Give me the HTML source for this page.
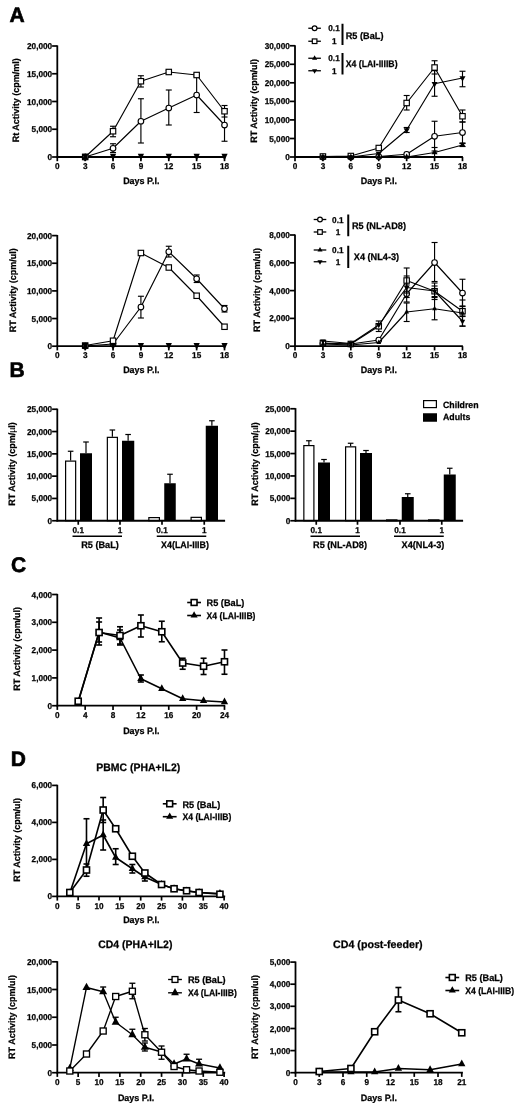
<!DOCTYPE html>
<html><head><meta charset="utf-8"><title>Figure</title>
<style>
html,body{margin:0;padding:0;background:#fff;}
body{width:520px;height:1106px;overflow:hidden;font-family:"Liberation Sans",sans-serif;}
svg{display:block;filter:blur(0.4px);}
</style></head><body>
<svg width="520" height="1106" viewBox="0 0 520 1106">
<rect x="0" y="0" width="520" height="1106" fill="#fff"/>
<text x="9.6" y="21.64" font-size="21" font-family="Liberation Sans, sans-serif" font-weight="bold" stroke="#000" stroke-width="0.6" text-rendering="geometricPrecision">A</text>
<text x="9.4" y="377.24" font-size="21" font-family="Liberation Sans, sans-serif" font-weight="bold" stroke="#000" stroke-width="0.6" text-rendering="geometricPrecision">B</text>
<text x="10.9" y="572.44" font-size="21" font-family="Liberation Sans, sans-serif" font-weight="bold" stroke="#000" stroke-width="0.6" text-rendering="geometricPrecision">C</text>
<text x="10.8" y="765.84" font-size="21" font-family="Liberation Sans, sans-serif" font-weight="bold" stroke="#000" stroke-width="0.6" text-rendering="geometricPrecision">D</text>
<line x1="57.30" y1="45.40" x2="57.30" y2="157.75" stroke="#000" stroke-width="1.8"/>
<line x1="56.55" y1="157.00" x2="225.20" y2="157.00" stroke="#000" stroke-width="1.8"/>
<line x1="52.10" y1="46.00" x2="57.30" y2="46.00" stroke="#000" stroke-width="1.7"/>
<text transform="translate(52.10,46.00) scale(0.965,1)" x="0" y="3.04" font-size="8.5" text-anchor="end" font-family="Liberation Sans, sans-serif" font-weight="bold" stroke="#000" stroke-width="0.25" text-rendering="geometricPrecision">20,000</text>
<line x1="52.10" y1="73.75" x2="57.30" y2="73.75" stroke="#000" stroke-width="1.7"/>
<text transform="translate(52.10,73.75) scale(0.965,1)" x="0" y="3.04" font-size="8.5" text-anchor="end" font-family="Liberation Sans, sans-serif" font-weight="bold" stroke="#000" stroke-width="0.25" text-rendering="geometricPrecision">15,000</text>
<line x1="52.10" y1="101.50" x2="57.30" y2="101.50" stroke="#000" stroke-width="1.7"/>
<text transform="translate(52.10,101.50) scale(0.965,1)" x="0" y="3.04" font-size="8.5" text-anchor="end" font-family="Liberation Sans, sans-serif" font-weight="bold" stroke="#000" stroke-width="0.25" text-rendering="geometricPrecision">10,000</text>
<line x1="52.10" y1="129.25" x2="57.30" y2="129.25" stroke="#000" stroke-width="1.7"/>
<text transform="translate(52.10,129.25) scale(0.965,1)" x="0" y="3.04" font-size="8.5" text-anchor="end" font-family="Liberation Sans, sans-serif" font-weight="bold" stroke="#000" stroke-width="0.25" text-rendering="geometricPrecision">5,000</text>
<line x1="52.10" y1="157.00" x2="57.30" y2="157.00" stroke="#000" stroke-width="1.7"/>
<text transform="translate(52.10,157.00) scale(0.965,1)" x="0" y="3.04" font-size="8.5" text-anchor="end" font-family="Liberation Sans, sans-serif" font-weight="bold" stroke="#000" stroke-width="0.25" text-rendering="geometricPrecision">0</text>
<line x1="57.30" y1="157.00" x2="57.30" y2="161.20" stroke="#000" stroke-width="1.7"/>
<text transform="translate(57.30,166.20) scale(0.965,1)" x="0" y="3.04" font-size="8.5" text-anchor="middle" font-family="Liberation Sans, sans-serif" font-weight="bold" stroke="#000" stroke-width="0.25" text-rendering="geometricPrecision">0</text>
<line x1="85.17" y1="157.00" x2="85.17" y2="161.20" stroke="#000" stroke-width="1.7"/>
<text transform="translate(85.17,166.20) scale(0.965,1)" x="0" y="3.04" font-size="8.5" text-anchor="middle" font-family="Liberation Sans, sans-serif" font-weight="bold" stroke="#000" stroke-width="0.25" text-rendering="geometricPrecision">3</text>
<line x1="113.04" y1="157.00" x2="113.04" y2="161.20" stroke="#000" stroke-width="1.7"/>
<text transform="translate(113.04,166.20) scale(0.965,1)" x="0" y="3.04" font-size="8.5" text-anchor="middle" font-family="Liberation Sans, sans-serif" font-weight="bold" stroke="#000" stroke-width="0.25" text-rendering="geometricPrecision">6</text>
<line x1="140.91" y1="157.00" x2="140.91" y2="161.20" stroke="#000" stroke-width="1.7"/>
<text transform="translate(140.91,166.20) scale(0.965,1)" x="0" y="3.04" font-size="8.5" text-anchor="middle" font-family="Liberation Sans, sans-serif" font-weight="bold" stroke="#000" stroke-width="0.25" text-rendering="geometricPrecision">9</text>
<line x1="168.78" y1="157.00" x2="168.78" y2="161.20" stroke="#000" stroke-width="1.7"/>
<text transform="translate(168.78,166.20) scale(0.965,1)" x="0" y="3.04" font-size="8.5" text-anchor="middle" font-family="Liberation Sans, sans-serif" font-weight="bold" stroke="#000" stroke-width="0.25" text-rendering="geometricPrecision">12</text>
<line x1="196.65" y1="157.00" x2="196.65" y2="161.20" stroke="#000" stroke-width="1.7"/>
<text transform="translate(196.65,166.20) scale(0.965,1)" x="0" y="3.04" font-size="8.5" text-anchor="middle" font-family="Liberation Sans, sans-serif" font-weight="bold" stroke="#000" stroke-width="0.25" text-rendering="geometricPrecision">15</text>
<line x1="224.52" y1="157.00" x2="224.52" y2="161.20" stroke="#000" stroke-width="1.7"/>
<text transform="translate(224.52,166.20) scale(0.965,1)" x="0" y="3.04" font-size="8.5" text-anchor="middle" font-family="Liberation Sans, sans-serif" font-weight="bold" stroke="#000" stroke-width="0.25" text-rendering="geometricPrecision">18</text>
<text transform="translate(16.00,100.30) rotate(-90) scale(0.965,1)" x="0" y="3.33" font-size="9.3" text-anchor="middle" font-family="Liberation Sans, sans-serif" font-weight="bold" stroke="#000" stroke-width="0.25" text-rendering="geometricPrecision">Rt Activity (cpm/ml)</text>
<text transform="translate(141.25,180.50) scale(0.965,1)" x="0" y="3.33" font-size="9.3" text-anchor="middle" font-family="Liberation Sans, sans-serif" font-weight="bold" stroke="#000" stroke-width="0.25" text-rendering="geometricPrecision">Days P.I.</text>
<polyline points="85.17,157.00 113.04,148.25 140.91,121.25 168.78,108.00 196.65,95.00 224.52,125.00" fill="none" stroke="#000" stroke-width="1.15" stroke-linejoin="round"/>
<line x1="113.04" y1="143.75" x2="113.04" y2="152.50" stroke="#000" stroke-width="1.15"/>
<line x1="110.04" y1="143.75" x2="116.04" y2="143.75" stroke="#000" stroke-width="1.15"/>
<line x1="110.04" y1="152.50" x2="116.04" y2="152.50" stroke="#000" stroke-width="1.15"/>
<line x1="140.91" y1="98.75" x2="140.91" y2="143.00" stroke="#000" stroke-width="1.15"/>
<line x1="137.91" y1="98.75" x2="143.91" y2="98.75" stroke="#000" stroke-width="1.15"/>
<line x1="137.91" y1="143.00" x2="143.91" y2="143.00" stroke="#000" stroke-width="1.15"/>
<line x1="168.78" y1="90.00" x2="168.78" y2="125.00" stroke="#000" stroke-width="1.15"/>
<line x1="165.78" y1="90.00" x2="171.78" y2="90.00" stroke="#000" stroke-width="1.15"/>
<line x1="165.78" y1="125.00" x2="171.78" y2="125.00" stroke="#000" stroke-width="1.15"/>
<line x1="196.65" y1="75.00" x2="196.65" y2="112.50" stroke="#000" stroke-width="1.15"/>
<line x1="193.65" y1="75.00" x2="199.65" y2="75.00" stroke="#000" stroke-width="1.15"/>
<line x1="193.65" y1="112.50" x2="199.65" y2="112.50" stroke="#000" stroke-width="1.15"/>
<line x1="224.52" y1="109.00" x2="224.52" y2="141.25" stroke="#000" stroke-width="1.15"/>
<line x1="221.52" y1="109.00" x2="227.52" y2="109.00" stroke="#000" stroke-width="1.15"/>
<line x1="221.52" y1="141.25" x2="227.52" y2="141.25" stroke="#000" stroke-width="1.15"/>
<circle cx="85.17" cy="157.00" r="2.80" fill="#fff" stroke="#000" stroke-width="1.15"/>
<circle cx="113.04" cy="148.25" r="2.80" fill="#fff" stroke="#000" stroke-width="1.15"/>
<circle cx="140.91" cy="121.25" r="2.80" fill="#fff" stroke="#000" stroke-width="1.15"/>
<circle cx="168.78" cy="108.00" r="2.80" fill="#fff" stroke="#000" stroke-width="1.15"/>
<circle cx="196.65" cy="95.00" r="2.80" fill="#fff" stroke="#000" stroke-width="1.15"/>
<circle cx="224.52" cy="125.00" r="2.80" fill="#fff" stroke="#000" stroke-width="1.15"/>
<polyline points="85.17,157.00 113.04,131.25 140.91,81.25 168.78,72.00 196.65,75.00 224.52,111.25" fill="none" stroke="#000" stroke-width="1.15" stroke-linejoin="round"/>
<line x1="113.04" y1="126.25" x2="113.04" y2="136.75" stroke="#000" stroke-width="1.15"/>
<line x1="110.04" y1="126.25" x2="116.04" y2="126.25" stroke="#000" stroke-width="1.15"/>
<line x1="110.04" y1="136.75" x2="116.04" y2="136.75" stroke="#000" stroke-width="1.15"/>
<line x1="140.91" y1="75.75" x2="140.91" y2="87.00" stroke="#000" stroke-width="1.15"/>
<line x1="137.91" y1="75.75" x2="143.91" y2="75.75" stroke="#000" stroke-width="1.15"/>
<line x1="137.91" y1="87.00" x2="143.91" y2="87.00" stroke="#000" stroke-width="1.15"/>
<line x1="168.78" y1="70.50" x2="168.78" y2="73.50" stroke="#000" stroke-width="1.15"/>
<line x1="165.78" y1="70.50" x2="171.78" y2="70.50" stroke="#000" stroke-width="1.15"/>
<line x1="165.78" y1="73.50" x2="171.78" y2="73.50" stroke="#000" stroke-width="1.15"/>
<line x1="196.65" y1="73.50" x2="196.65" y2="76.50" stroke="#000" stroke-width="1.15"/>
<line x1="193.65" y1="73.50" x2="199.65" y2="73.50" stroke="#000" stroke-width="1.15"/>
<line x1="193.65" y1="76.50" x2="199.65" y2="76.50" stroke="#000" stroke-width="1.15"/>
<line x1="224.52" y1="105.50" x2="224.52" y2="117.00" stroke="#000" stroke-width="1.15"/>
<line x1="221.52" y1="105.50" x2="227.52" y2="105.50" stroke="#000" stroke-width="1.15"/>
<line x1="221.52" y1="117.00" x2="227.52" y2="117.00" stroke="#000" stroke-width="1.15"/>
<rect x="82.47" y="154.30" width="5.40" height="5.40" fill="#fff" stroke="#000" stroke-width="1.15"/>
<rect x="110.34" y="128.55" width="5.40" height="5.40" fill="#fff" stroke="#000" stroke-width="1.15"/>
<rect x="138.21" y="78.55" width="5.40" height="5.40" fill="#fff" stroke="#000" stroke-width="1.15"/>
<rect x="166.08" y="69.30" width="5.40" height="5.40" fill="#fff" stroke="#000" stroke-width="1.15"/>
<rect x="193.95" y="72.30" width="5.40" height="5.40" fill="#fff" stroke="#000" stroke-width="1.15"/>
<rect x="221.82" y="108.55" width="5.40" height="5.40" fill="#fff" stroke="#000" stroke-width="1.15"/>
<polygon points="81.97,159.60 88.37,159.60 85.17,153.20" fill="#000"/>
<polygon points="82.07,153.70 88.27,153.70 85.17,160.60" fill="#000"/>
<polygon points="109.94,153.70 116.14,153.70 113.04,160.60" fill="#000"/>
<polygon points="137.81,153.70 144.01,153.70 140.91,160.60" fill="#000"/>
<polygon points="165.68,153.70 171.88,153.70 168.78,160.60" fill="#000"/>
<polygon points="193.55,153.70 199.75,153.70 196.65,160.60" fill="#000"/>
<polygon points="221.42,153.70 227.62,153.70 224.52,160.60" fill="#000"/>
<line x1="295.00" y1="45.15" x2="295.00" y2="157.75" stroke="#000" stroke-width="1.8"/>
<line x1="294.25" y1="157.00" x2="462.90" y2="157.00" stroke="#000" stroke-width="1.8"/>
<line x1="289.80" y1="45.75" x2="295.00" y2="45.75" stroke="#000" stroke-width="1.7"/>
<text transform="translate(289.80,45.75) scale(0.965,1)" x="0" y="3.04" font-size="8.5" text-anchor="end" font-family="Liberation Sans, sans-serif" font-weight="bold" stroke="#000" stroke-width="0.25" text-rendering="geometricPrecision">30,000</text>
<line x1="289.80" y1="64.30" x2="295.00" y2="64.30" stroke="#000" stroke-width="1.7"/>
<text transform="translate(289.80,64.30) scale(0.965,1)" x="0" y="3.04" font-size="8.5" text-anchor="end" font-family="Liberation Sans, sans-serif" font-weight="bold" stroke="#000" stroke-width="0.25" text-rendering="geometricPrecision">25,000</text>
<line x1="289.80" y1="82.80" x2="295.00" y2="82.80" stroke="#000" stroke-width="1.7"/>
<text transform="translate(289.80,82.80) scale(0.965,1)" x="0" y="3.04" font-size="8.5" text-anchor="end" font-family="Liberation Sans, sans-serif" font-weight="bold" stroke="#000" stroke-width="0.25" text-rendering="geometricPrecision">20,000</text>
<line x1="289.80" y1="101.40" x2="295.00" y2="101.40" stroke="#000" stroke-width="1.7"/>
<text transform="translate(289.80,101.40) scale(0.965,1)" x="0" y="3.04" font-size="8.5" text-anchor="end" font-family="Liberation Sans, sans-serif" font-weight="bold" stroke="#000" stroke-width="0.25" text-rendering="geometricPrecision">15,000</text>
<line x1="289.80" y1="119.90" x2="295.00" y2="119.90" stroke="#000" stroke-width="1.7"/>
<text transform="translate(289.80,119.90) scale(0.965,1)" x="0" y="3.04" font-size="8.5" text-anchor="end" font-family="Liberation Sans, sans-serif" font-weight="bold" stroke="#000" stroke-width="0.25" text-rendering="geometricPrecision">10,000</text>
<line x1="289.80" y1="138.50" x2="295.00" y2="138.50" stroke="#000" stroke-width="1.7"/>
<text transform="translate(289.80,138.50) scale(0.965,1)" x="0" y="3.04" font-size="8.5" text-anchor="end" font-family="Liberation Sans, sans-serif" font-weight="bold" stroke="#000" stroke-width="0.25" text-rendering="geometricPrecision">5,000</text>
<line x1="289.80" y1="157.00" x2="295.00" y2="157.00" stroke="#000" stroke-width="1.7"/>
<text transform="translate(289.80,157.00) scale(0.965,1)" x="0" y="3.04" font-size="8.5" text-anchor="end" font-family="Liberation Sans, sans-serif" font-weight="bold" stroke="#000" stroke-width="0.25" text-rendering="geometricPrecision">0</text>
<line x1="295.00" y1="157.00" x2="295.00" y2="161.20" stroke="#000" stroke-width="1.7"/>
<text transform="translate(295.00,166.20) scale(0.965,1)" x="0" y="3.04" font-size="8.5" text-anchor="middle" font-family="Liberation Sans, sans-serif" font-weight="bold" stroke="#000" stroke-width="0.25" text-rendering="geometricPrecision">0</text>
<line x1="322.92" y1="157.00" x2="322.92" y2="161.20" stroke="#000" stroke-width="1.7"/>
<text transform="translate(322.92,166.20) scale(0.965,1)" x="0" y="3.04" font-size="8.5" text-anchor="middle" font-family="Liberation Sans, sans-serif" font-weight="bold" stroke="#000" stroke-width="0.25" text-rendering="geometricPrecision">3</text>
<line x1="350.83" y1="157.00" x2="350.83" y2="161.20" stroke="#000" stroke-width="1.7"/>
<text transform="translate(350.83,166.20) scale(0.965,1)" x="0" y="3.04" font-size="8.5" text-anchor="middle" font-family="Liberation Sans, sans-serif" font-weight="bold" stroke="#000" stroke-width="0.25" text-rendering="geometricPrecision">6</text>
<line x1="378.75" y1="157.00" x2="378.75" y2="161.20" stroke="#000" stroke-width="1.7"/>
<text transform="translate(378.75,166.20) scale(0.965,1)" x="0" y="3.04" font-size="8.5" text-anchor="middle" font-family="Liberation Sans, sans-serif" font-weight="bold" stroke="#000" stroke-width="0.25" text-rendering="geometricPrecision">9</text>
<line x1="406.66" y1="157.00" x2="406.66" y2="161.20" stroke="#000" stroke-width="1.7"/>
<text transform="translate(406.66,166.20) scale(0.965,1)" x="0" y="3.04" font-size="8.5" text-anchor="middle" font-family="Liberation Sans, sans-serif" font-weight="bold" stroke="#000" stroke-width="0.25" text-rendering="geometricPrecision">12</text>
<line x1="434.57" y1="157.00" x2="434.57" y2="161.20" stroke="#000" stroke-width="1.7"/>
<text transform="translate(434.57,166.20) scale(0.965,1)" x="0" y="3.04" font-size="8.5" text-anchor="middle" font-family="Liberation Sans, sans-serif" font-weight="bold" stroke="#000" stroke-width="0.25" text-rendering="geometricPrecision">15</text>
<line x1="462.49" y1="157.00" x2="462.49" y2="161.20" stroke="#000" stroke-width="1.7"/>
<text transform="translate(462.49,166.20) scale(0.965,1)" x="0" y="3.04" font-size="8.5" text-anchor="middle" font-family="Liberation Sans, sans-serif" font-weight="bold" stroke="#000" stroke-width="0.25" text-rendering="geometricPrecision">18</text>
<text transform="translate(253.25,100.90) rotate(-90) scale(0.965,1)" x="0" y="3.33" font-size="9.3" text-anchor="middle" font-family="Liberation Sans, sans-serif" font-weight="bold" stroke="#000" stroke-width="0.25" text-rendering="geometricPrecision">RT Activity (cpm/ul)</text>
<text transform="translate(378.90,180.50) scale(0.965,1)" x="0" y="3.33" font-size="9.3" text-anchor="middle" font-family="Liberation Sans, sans-serif" font-weight="bold" stroke="#000" stroke-width="0.25" text-rendering="geometricPrecision">Days P.I.</text>
<polyline points="322.92,157.00 350.83,157.00 378.75,156.50 406.66,154.25 434.57,136.25 462.49,132.50" fill="none" stroke="#000" stroke-width="1.15" stroke-linejoin="round"/>
<line x1="434.57" y1="121.25" x2="434.57" y2="151.00" stroke="#000" stroke-width="1.15"/>
<line x1="431.57" y1="121.25" x2="437.57" y2="121.25" stroke="#000" stroke-width="1.15"/>
<line x1="431.57" y1="151.00" x2="437.57" y2="151.00" stroke="#000" stroke-width="1.15"/>
<line x1="462.49" y1="122.00" x2="462.49" y2="143.00" stroke="#000" stroke-width="1.15"/>
<line x1="459.49" y1="122.00" x2="465.49" y2="122.00" stroke="#000" stroke-width="1.15"/>
<line x1="459.49" y1="143.00" x2="465.49" y2="143.00" stroke="#000" stroke-width="1.15"/>
<circle cx="322.92" cy="157.00" r="2.80" fill="#fff" stroke="#000" stroke-width="1.15"/>
<circle cx="350.83" cy="157.00" r="2.80" fill="#fff" stroke="#000" stroke-width="1.15"/>
<circle cx="378.75" cy="156.50" r="2.80" fill="#fff" stroke="#000" stroke-width="1.15"/>
<circle cx="406.66" cy="154.25" r="2.80" fill="#fff" stroke="#000" stroke-width="1.15"/>
<circle cx="434.57" cy="136.25" r="2.80" fill="#fff" stroke="#000" stroke-width="1.15"/>
<circle cx="462.49" cy="132.50" r="2.80" fill="#fff" stroke="#000" stroke-width="1.15"/>
<polyline points="322.92,156.50 350.83,156.00 378.75,148.00 406.66,103.00 434.57,67.50 462.49,116.25" fill="none" stroke="#000" stroke-width="1.15" stroke-linejoin="round"/>
<line x1="406.66" y1="95.50" x2="406.66" y2="110.00" stroke="#000" stroke-width="1.15"/>
<line x1="403.66" y1="95.50" x2="409.66" y2="95.50" stroke="#000" stroke-width="1.15"/>
<line x1="403.66" y1="110.00" x2="409.66" y2="110.00" stroke="#000" stroke-width="1.15"/>
<line x1="434.57" y1="60.75" x2="434.57" y2="74.00" stroke="#000" stroke-width="1.15"/>
<line x1="431.57" y1="60.75" x2="437.57" y2="60.75" stroke="#000" stroke-width="1.15"/>
<line x1="431.57" y1="74.00" x2="437.57" y2="74.00" stroke="#000" stroke-width="1.15"/>
<line x1="462.49" y1="110.00" x2="462.49" y2="122.00" stroke="#000" stroke-width="1.15"/>
<line x1="459.49" y1="110.00" x2="465.49" y2="110.00" stroke="#000" stroke-width="1.15"/>
<line x1="459.49" y1="122.00" x2="465.49" y2="122.00" stroke="#000" stroke-width="1.15"/>
<rect x="320.22" y="153.80" width="5.40" height="5.40" fill="#fff" stroke="#000" stroke-width="1.15"/>
<rect x="348.13" y="153.30" width="5.40" height="5.40" fill="#fff" stroke="#000" stroke-width="1.15"/>
<rect x="376.05" y="145.30" width="5.40" height="5.40" fill="#fff" stroke="#000" stroke-width="1.15"/>
<rect x="403.96" y="100.30" width="5.40" height="5.40" fill="#fff" stroke="#000" stroke-width="1.15"/>
<rect x="431.88" y="64.80" width="5.40" height="5.40" fill="#fff" stroke="#000" stroke-width="1.15"/>
<rect x="459.79" y="113.55" width="5.40" height="5.40" fill="#fff" stroke="#000" stroke-width="1.15"/>
<polyline points="322.92,157.00 350.83,157.00 378.75,157.00 406.66,157.00 434.57,152.50 462.49,145.00" fill="none" stroke="#000" stroke-width="1.15" stroke-linejoin="round"/>
<line x1="434.57" y1="147.50" x2="434.57" y2="157.00" stroke="#000" stroke-width="1.15"/>
<line x1="431.57" y1="147.50" x2="437.57" y2="147.50" stroke="#000" stroke-width="1.15"/>
<line x1="431.57" y1="157.00" x2="437.57" y2="157.00" stroke="#000" stroke-width="1.15"/>
<line x1="462.49" y1="143.50" x2="462.49" y2="146.50" stroke="#000" stroke-width="1.15"/>
<line x1="459.49" y1="143.50" x2="465.49" y2="143.50" stroke="#000" stroke-width="1.15"/>
<line x1="459.49" y1="146.50" x2="465.49" y2="146.50" stroke="#000" stroke-width="1.15"/>
<polygon points="322.92,153.40 325.92,158.80 319.92,158.80" fill="#000"/>
<polygon points="350.83,153.40 353.83,158.80 347.83,158.80" fill="#000"/>
<polygon points="378.75,153.40 381.75,158.80 375.75,158.80" fill="#000"/>
<polygon points="406.66,153.40 409.66,158.80 403.66,158.80" fill="#000"/>
<polygon points="434.57,148.90 437.57,154.30 431.57,154.30" fill="#000"/>
<polygon points="462.49,141.40 465.49,146.80 459.49,146.80" fill="#000"/>
<polyline points="322.92,157.00 350.83,157.00 378.75,153.50 406.66,130.00 434.57,83.75 462.49,78.00" fill="none" stroke="#000" stroke-width="1.15" stroke-linejoin="round"/>
<line x1="406.66" y1="127.50" x2="406.66" y2="132.50" stroke="#000" stroke-width="1.15"/>
<line x1="403.66" y1="127.50" x2="409.66" y2="127.50" stroke="#000" stroke-width="1.15"/>
<line x1="403.66" y1="132.50" x2="409.66" y2="132.50" stroke="#000" stroke-width="1.15"/>
<line x1="434.57" y1="70.60" x2="434.57" y2="96.25" stroke="#000" stroke-width="1.15"/>
<line x1="431.57" y1="70.60" x2="437.57" y2="70.60" stroke="#000" stroke-width="1.15"/>
<line x1="431.57" y1="96.25" x2="437.57" y2="96.25" stroke="#000" stroke-width="1.15"/>
<line x1="462.49" y1="71.25" x2="462.49" y2="86.75" stroke="#000" stroke-width="1.15"/>
<line x1="459.49" y1="71.25" x2="465.49" y2="71.25" stroke="#000" stroke-width="1.15"/>
<line x1="459.49" y1="86.75" x2="465.49" y2="86.75" stroke="#000" stroke-width="1.15"/>
<polygon points="322.92,160.60 325.92,155.20 319.92,155.20" fill="#000"/>
<polygon points="350.83,160.60 353.83,155.20 347.83,155.20" fill="#000"/>
<polygon points="378.75,157.10 381.75,151.70 375.75,151.70" fill="#000"/>
<polygon points="406.66,133.60 409.66,128.20 403.66,128.20" fill="#000"/>
<polygon points="434.57,87.35 437.57,81.95 431.57,81.95" fill="#000"/>
<polygon points="462.49,81.60 465.49,76.20 459.49,76.20" fill="#000"/>
<line x1="308.30" y1="28.25" x2="320.90" y2="28.25" stroke="#000" stroke-width="1.3"/>
<circle cx="314.60" cy="28.25" r="2.38" fill="#fff" stroke="#000" stroke-width="1.2"/>
<text transform="translate(339.70,28.25) scale(0.965,1)" x="0" y="3.04" font-size="8.5" text-anchor="end" font-family="Liberation Sans, sans-serif" font-weight="bold" stroke="#000" stroke-width="0.25" text-rendering="geometricPrecision">0.1</text>
<line x1="308.30" y1="41.25" x2="320.90" y2="41.25" stroke="#000" stroke-width="1.3"/>
<rect x="312.31" y="38.95" width="4.59" height="4.59" fill="#fff" stroke="#000" stroke-width="1.2"/>
<text transform="translate(336.50,41.25) scale(0.965,1)" x="0" y="3.04" font-size="8.5" text-anchor="end" font-family="Liberation Sans, sans-serif" font-weight="bold" stroke="#000" stroke-width="0.25" text-rendering="geometricPrecision">1</text>
<line x1="308.30" y1="58.25" x2="320.90" y2="58.25" stroke="#000" stroke-width="1.3"/>
<polygon points="314.60,55.19 317.15,59.78 312.05,59.78" fill="#000"/>
<text transform="translate(339.70,58.25) scale(0.965,1)" x="0" y="3.04" font-size="8.5" text-anchor="end" font-family="Liberation Sans, sans-serif" font-weight="bold" stroke="#000" stroke-width="0.25" text-rendering="geometricPrecision">0.1</text>
<line x1="308.30" y1="70.75" x2="320.90" y2="70.75" stroke="#000" stroke-width="1.3"/>
<polygon points="314.60,73.81 317.15,69.22 312.05,69.22" fill="#000"/>
<text transform="translate(336.50,70.75) scale(0.965,1)" x="0" y="3.04" font-size="8.5" text-anchor="end" font-family="Liberation Sans, sans-serif" font-weight="bold" stroke="#000" stroke-width="0.25" text-rendering="geometricPrecision">1</text>
<line x1="342.50" y1="23.75" x2="342.50" y2="45.00" stroke="#000" stroke-width="2.0"/>
<line x1="342.50" y1="53.00" x2="342.50" y2="74.50" stroke="#000" stroke-width="2.0"/>
<text transform="translate(345.75,36.00) scale(0.965,1)" x="0" y="3.40" font-size="9.5" text-anchor="start" font-family="Liberation Sans, sans-serif" font-weight="bold" stroke="#000" stroke-width="0.25" text-rendering="geometricPrecision">R5 (BaL)</text>
<text transform="translate(345.75,64.00) scale(0.965,1)" x="0" y="3.40" font-size="9.5" text-anchor="start" textLength="53.68" lengthAdjust="spacingAndGlyphs" font-family="Liberation Sans, sans-serif" font-weight="bold" stroke="#000" stroke-width="0.25" text-rendering="geometricPrecision">X4 (LAI-IIIIB)</text>
<line x1="57.30" y1="235.00" x2="57.30" y2="346.95" stroke="#000" stroke-width="1.8"/>
<line x1="56.55" y1="346.20" x2="225.20" y2="346.20" stroke="#000" stroke-width="1.8"/>
<line x1="52.10" y1="235.60" x2="57.30" y2="235.60" stroke="#000" stroke-width="1.7"/>
<text transform="translate(52.10,235.60) scale(0.965,1)" x="0" y="3.04" font-size="8.5" text-anchor="end" font-family="Liberation Sans, sans-serif" font-weight="bold" stroke="#000" stroke-width="0.25" text-rendering="geometricPrecision">20,000</text>
<line x1="52.10" y1="263.25" x2="57.30" y2="263.25" stroke="#000" stroke-width="1.7"/>
<text transform="translate(52.10,263.25) scale(0.965,1)" x="0" y="3.04" font-size="8.5" text-anchor="end" font-family="Liberation Sans, sans-serif" font-weight="bold" stroke="#000" stroke-width="0.25" text-rendering="geometricPrecision">15,000</text>
<line x1="52.10" y1="290.90" x2="57.30" y2="290.90" stroke="#000" stroke-width="1.7"/>
<text transform="translate(52.10,290.90) scale(0.965,1)" x="0" y="3.04" font-size="8.5" text-anchor="end" font-family="Liberation Sans, sans-serif" font-weight="bold" stroke="#000" stroke-width="0.25" text-rendering="geometricPrecision">10,000</text>
<line x1="52.10" y1="318.55" x2="57.30" y2="318.55" stroke="#000" stroke-width="1.7"/>
<text transform="translate(52.10,318.55) scale(0.965,1)" x="0" y="3.04" font-size="8.5" text-anchor="end" font-family="Liberation Sans, sans-serif" font-weight="bold" stroke="#000" stroke-width="0.25" text-rendering="geometricPrecision">5,000</text>
<line x1="52.10" y1="346.20" x2="57.30" y2="346.20" stroke="#000" stroke-width="1.7"/>
<text transform="translate(52.10,346.20) scale(0.965,1)" x="0" y="3.04" font-size="8.5" text-anchor="end" font-family="Liberation Sans, sans-serif" font-weight="bold" stroke="#000" stroke-width="0.25" text-rendering="geometricPrecision">0</text>
<line x1="57.30" y1="346.20" x2="57.30" y2="350.40" stroke="#000" stroke-width="1.7"/>
<text transform="translate(57.30,355.40) scale(0.965,1)" x="0" y="3.04" font-size="8.5" text-anchor="middle" font-family="Liberation Sans, sans-serif" font-weight="bold" stroke="#000" stroke-width="0.25" text-rendering="geometricPrecision">0</text>
<line x1="85.17" y1="346.20" x2="85.17" y2="350.40" stroke="#000" stroke-width="1.7"/>
<text transform="translate(85.17,355.40) scale(0.965,1)" x="0" y="3.04" font-size="8.5" text-anchor="middle" font-family="Liberation Sans, sans-serif" font-weight="bold" stroke="#000" stroke-width="0.25" text-rendering="geometricPrecision">3</text>
<line x1="113.04" y1="346.20" x2="113.04" y2="350.40" stroke="#000" stroke-width="1.7"/>
<text transform="translate(113.04,355.40) scale(0.965,1)" x="0" y="3.04" font-size="8.5" text-anchor="middle" font-family="Liberation Sans, sans-serif" font-weight="bold" stroke="#000" stroke-width="0.25" text-rendering="geometricPrecision">6</text>
<line x1="140.91" y1="346.20" x2="140.91" y2="350.40" stroke="#000" stroke-width="1.7"/>
<text transform="translate(140.91,355.40) scale(0.965,1)" x="0" y="3.04" font-size="8.5" text-anchor="middle" font-family="Liberation Sans, sans-serif" font-weight="bold" stroke="#000" stroke-width="0.25" text-rendering="geometricPrecision">9</text>
<line x1="168.78" y1="346.20" x2="168.78" y2="350.40" stroke="#000" stroke-width="1.7"/>
<text transform="translate(168.78,355.40) scale(0.965,1)" x="0" y="3.04" font-size="8.5" text-anchor="middle" font-family="Liberation Sans, sans-serif" font-weight="bold" stroke="#000" stroke-width="0.25" text-rendering="geometricPrecision">12</text>
<line x1="196.65" y1="346.20" x2="196.65" y2="350.40" stroke="#000" stroke-width="1.7"/>
<text transform="translate(196.65,355.40) scale(0.965,1)" x="0" y="3.04" font-size="8.5" text-anchor="middle" font-family="Liberation Sans, sans-serif" font-weight="bold" stroke="#000" stroke-width="0.25" text-rendering="geometricPrecision">15</text>
<line x1="224.52" y1="346.20" x2="224.52" y2="350.40" stroke="#000" stroke-width="1.7"/>
<text transform="translate(224.52,355.40) scale(0.965,1)" x="0" y="3.04" font-size="8.5" text-anchor="middle" font-family="Liberation Sans, sans-serif" font-weight="bold" stroke="#000" stroke-width="0.25" text-rendering="geometricPrecision">18</text>
<text transform="translate(13.00,290.30) rotate(-90) scale(0.965,1)" x="0" y="3.33" font-size="9.3" text-anchor="middle" font-family="Liberation Sans, sans-serif" font-weight="bold" stroke="#000" stroke-width="0.25" text-rendering="geometricPrecision">RT Activity (cpm/ul)</text>
<text transform="translate(141.25,369.50) scale(0.965,1)" x="0" y="3.33" font-size="9.3" text-anchor="middle" font-family="Liberation Sans, sans-serif" font-weight="bold" stroke="#000" stroke-width="0.25" text-rendering="geometricPrecision">Days P.I.</text>
<polyline points="85.17,346.00 113.04,344.00 140.91,307.00 168.78,251.75 196.65,278.75 224.52,308.75" fill="none" stroke="#000" stroke-width="1.15" stroke-linejoin="round"/>
<line x1="140.91" y1="296.25" x2="140.91" y2="318.00" stroke="#000" stroke-width="1.15"/>
<line x1="137.91" y1="296.25" x2="143.91" y2="296.25" stroke="#000" stroke-width="1.15"/>
<line x1="137.91" y1="318.00" x2="143.91" y2="318.00" stroke="#000" stroke-width="1.15"/>
<line x1="168.78" y1="246.25" x2="168.78" y2="257.00" stroke="#000" stroke-width="1.15"/>
<line x1="165.78" y1="246.25" x2="171.78" y2="246.25" stroke="#000" stroke-width="1.15"/>
<line x1="165.78" y1="257.00" x2="171.78" y2="257.00" stroke="#000" stroke-width="1.15"/>
<line x1="196.65" y1="275.00" x2="196.65" y2="282.50" stroke="#000" stroke-width="1.15"/>
<line x1="193.65" y1="275.00" x2="199.65" y2="275.00" stroke="#000" stroke-width="1.15"/>
<line x1="193.65" y1="282.50" x2="199.65" y2="282.50" stroke="#000" stroke-width="1.15"/>
<line x1="224.52" y1="305.50" x2="224.52" y2="312.00" stroke="#000" stroke-width="1.15"/>
<line x1="221.52" y1="305.50" x2="227.52" y2="305.50" stroke="#000" stroke-width="1.15"/>
<line x1="221.52" y1="312.00" x2="227.52" y2="312.00" stroke="#000" stroke-width="1.15"/>
<circle cx="85.17" cy="346.00" r="2.80" fill="#fff" stroke="#000" stroke-width="1.15"/>
<circle cx="113.04" cy="344.00" r="2.80" fill="#fff" stroke="#000" stroke-width="1.15"/>
<circle cx="140.91" cy="307.00" r="2.80" fill="#fff" stroke="#000" stroke-width="1.15"/>
<circle cx="168.78" cy="251.75" r="2.80" fill="#fff" stroke="#000" stroke-width="1.15"/>
<circle cx="196.65" cy="278.75" r="2.80" fill="#fff" stroke="#000" stroke-width="1.15"/>
<circle cx="224.52" cy="308.75" r="2.80" fill="#fff" stroke="#000" stroke-width="1.15"/>
<polyline points="85.17,345.50 113.04,340.75 140.91,253.00 168.78,267.50 196.65,295.75 224.52,326.75" fill="none" stroke="#000" stroke-width="1.15" stroke-linejoin="round"/>
<rect x="82.47" y="342.80" width="5.40" height="5.40" fill="#fff" stroke="#000" stroke-width="1.15"/>
<rect x="110.34" y="338.05" width="5.40" height="5.40" fill="#fff" stroke="#000" stroke-width="1.15"/>
<rect x="138.21" y="250.30" width="5.40" height="5.40" fill="#fff" stroke="#000" stroke-width="1.15"/>
<rect x="166.08" y="264.80" width="5.40" height="5.40" fill="#fff" stroke="#000" stroke-width="1.15"/>
<rect x="193.95" y="293.05" width="5.40" height="5.40" fill="#fff" stroke="#000" stroke-width="1.15"/>
<rect x="221.82" y="324.05" width="5.40" height="5.40" fill="#fff" stroke="#000" stroke-width="1.15"/>
<polygon points="81.97,348.80 88.37,348.80 85.17,342.40" fill="#000"/>
<polygon points="82.07,342.90 88.27,342.90 85.17,349.80" fill="#000"/>
<polygon points="109.94,342.90 116.14,342.90 113.04,349.80" fill="#000"/>
<polygon points="137.81,342.90 144.01,342.90 140.91,349.80" fill="#000"/>
<polygon points="165.68,342.90 171.88,342.90 168.78,349.80" fill="#000"/>
<polygon points="193.55,342.90 199.75,342.90 196.65,349.80" fill="#000"/>
<polygon points="221.42,342.90 227.62,342.90 224.52,349.80" fill="#000"/>
<line x1="295.00" y1="234.40" x2="295.00" y2="346.95" stroke="#000" stroke-width="1.8"/>
<line x1="294.25" y1="346.20" x2="462.90" y2="346.20" stroke="#000" stroke-width="1.8"/>
<line x1="289.80" y1="235.00" x2="295.00" y2="235.00" stroke="#000" stroke-width="1.7"/>
<text transform="translate(289.80,235.00) scale(0.965,1)" x="0" y="3.04" font-size="8.5" text-anchor="end" font-family="Liberation Sans, sans-serif" font-weight="bold" stroke="#000" stroke-width="0.25" text-rendering="geometricPrecision">8,000</text>
<line x1="289.80" y1="262.80" x2="295.00" y2="262.80" stroke="#000" stroke-width="1.7"/>
<text transform="translate(289.80,262.80) scale(0.965,1)" x="0" y="3.04" font-size="8.5" text-anchor="end" font-family="Liberation Sans, sans-serif" font-weight="bold" stroke="#000" stroke-width="0.25" text-rendering="geometricPrecision">6,000</text>
<line x1="289.80" y1="290.60" x2="295.00" y2="290.60" stroke="#000" stroke-width="1.7"/>
<text transform="translate(289.80,290.60) scale(0.965,1)" x="0" y="3.04" font-size="8.5" text-anchor="end" font-family="Liberation Sans, sans-serif" font-weight="bold" stroke="#000" stroke-width="0.25" text-rendering="geometricPrecision">4,000</text>
<line x1="289.80" y1="318.40" x2="295.00" y2="318.40" stroke="#000" stroke-width="1.7"/>
<text transform="translate(289.80,318.40) scale(0.965,1)" x="0" y="3.04" font-size="8.5" text-anchor="end" font-family="Liberation Sans, sans-serif" font-weight="bold" stroke="#000" stroke-width="0.25" text-rendering="geometricPrecision">2,000</text>
<line x1="289.80" y1="346.20" x2="295.00" y2="346.20" stroke="#000" stroke-width="1.7"/>
<text transform="translate(289.80,346.20) scale(0.965,1)" x="0" y="3.04" font-size="8.5" text-anchor="end" font-family="Liberation Sans, sans-serif" font-weight="bold" stroke="#000" stroke-width="0.25" text-rendering="geometricPrecision">0</text>
<line x1="295.00" y1="346.20" x2="295.00" y2="350.40" stroke="#000" stroke-width="1.7"/>
<text transform="translate(295.00,355.40) scale(0.965,1)" x="0" y="3.04" font-size="8.5" text-anchor="middle" font-family="Liberation Sans, sans-serif" font-weight="bold" stroke="#000" stroke-width="0.25" text-rendering="geometricPrecision">0</text>
<line x1="322.92" y1="346.20" x2="322.92" y2="350.40" stroke="#000" stroke-width="1.7"/>
<text transform="translate(322.92,355.40) scale(0.965,1)" x="0" y="3.04" font-size="8.5" text-anchor="middle" font-family="Liberation Sans, sans-serif" font-weight="bold" stroke="#000" stroke-width="0.25" text-rendering="geometricPrecision">3</text>
<line x1="350.83" y1="346.20" x2="350.83" y2="350.40" stroke="#000" stroke-width="1.7"/>
<text transform="translate(350.83,355.40) scale(0.965,1)" x="0" y="3.04" font-size="8.5" text-anchor="middle" font-family="Liberation Sans, sans-serif" font-weight="bold" stroke="#000" stroke-width="0.25" text-rendering="geometricPrecision">6</text>
<line x1="378.75" y1="346.20" x2="378.75" y2="350.40" stroke="#000" stroke-width="1.7"/>
<text transform="translate(378.75,355.40) scale(0.965,1)" x="0" y="3.04" font-size="8.5" text-anchor="middle" font-family="Liberation Sans, sans-serif" font-weight="bold" stroke="#000" stroke-width="0.25" text-rendering="geometricPrecision">9</text>
<line x1="406.66" y1="346.20" x2="406.66" y2="350.40" stroke="#000" stroke-width="1.7"/>
<text transform="translate(406.66,355.40) scale(0.965,1)" x="0" y="3.04" font-size="8.5" text-anchor="middle" font-family="Liberation Sans, sans-serif" font-weight="bold" stroke="#000" stroke-width="0.25" text-rendering="geometricPrecision">12</text>
<line x1="434.57" y1="346.20" x2="434.57" y2="350.40" stroke="#000" stroke-width="1.7"/>
<text transform="translate(434.57,355.40) scale(0.965,1)" x="0" y="3.04" font-size="8.5" text-anchor="middle" font-family="Liberation Sans, sans-serif" font-weight="bold" stroke="#000" stroke-width="0.25" text-rendering="geometricPrecision">15</text>
<line x1="462.49" y1="346.20" x2="462.49" y2="350.40" stroke="#000" stroke-width="1.7"/>
<text transform="translate(462.49,355.40) scale(0.965,1)" x="0" y="3.04" font-size="8.5" text-anchor="middle" font-family="Liberation Sans, sans-serif" font-weight="bold" stroke="#000" stroke-width="0.25" text-rendering="geometricPrecision">18</text>
<text transform="translate(256.25,290.00) rotate(-90) scale(0.965,1)" x="0" y="3.33" font-size="9.3" text-anchor="middle" font-family="Liberation Sans, sans-serif" font-weight="bold" stroke="#000" stroke-width="0.25" text-rendering="geometricPrecision">RT Activity (cpm/ul)</text>
<text transform="translate(378.90,369.50) scale(0.965,1)" x="0" y="3.33" font-size="9.3" text-anchor="middle" font-family="Liberation Sans, sans-serif" font-weight="bold" stroke="#000" stroke-width="0.25" text-rendering="geometricPrecision">Days P.I.</text>
<polyline points="322.92,343.50 350.83,344.00 378.75,340.00 406.66,293.75 434.57,262.50 462.49,293.00" fill="none" stroke="#000" stroke-width="1.15" stroke-linejoin="round"/>
<line x1="406.66" y1="285.00" x2="406.66" y2="302.00" stroke="#000" stroke-width="1.15"/>
<line x1="403.66" y1="285.00" x2="409.66" y2="285.00" stroke="#000" stroke-width="1.15"/>
<line x1="403.66" y1="302.00" x2="409.66" y2="302.00" stroke="#000" stroke-width="1.15"/>
<line x1="434.57" y1="242.50" x2="434.57" y2="281.50" stroke="#000" stroke-width="1.15"/>
<line x1="431.57" y1="242.50" x2="437.57" y2="242.50" stroke="#000" stroke-width="1.15"/>
<line x1="431.57" y1="281.50" x2="437.57" y2="281.50" stroke="#000" stroke-width="1.15"/>
<line x1="462.49" y1="279.25" x2="462.49" y2="306.50" stroke="#000" stroke-width="1.15"/>
<line x1="459.49" y1="279.25" x2="465.49" y2="279.25" stroke="#000" stroke-width="1.15"/>
<line x1="459.49" y1="306.50" x2="465.49" y2="306.50" stroke="#000" stroke-width="1.15"/>
<circle cx="322.92" cy="343.50" r="2.80" fill="#fff" stroke="#000" stroke-width="1.15"/>
<circle cx="350.83" cy="344.00" r="2.80" fill="#fff" stroke="#000" stroke-width="1.15"/>
<circle cx="378.75" cy="340.00" r="2.80" fill="#fff" stroke="#000" stroke-width="1.15"/>
<circle cx="406.66" cy="293.75" r="2.80" fill="#fff" stroke="#000" stroke-width="1.15"/>
<circle cx="434.57" cy="262.50" r="2.80" fill="#fff" stroke="#000" stroke-width="1.15"/>
<circle cx="462.49" cy="293.00" r="2.80" fill="#fff" stroke="#000" stroke-width="1.15"/>
<polyline points="322.92,343.00 350.83,344.00 378.75,326.25 406.66,280.50 434.57,291.25 462.49,311.25" fill="none" stroke="#000" stroke-width="1.15" stroke-linejoin="round"/>
<line x1="378.75" y1="321.00" x2="378.75" y2="331.50" stroke="#000" stroke-width="1.15"/>
<line x1="375.75" y1="321.00" x2="381.75" y2="321.00" stroke="#000" stroke-width="1.15"/>
<line x1="375.75" y1="331.50" x2="381.75" y2="331.50" stroke="#000" stroke-width="1.15"/>
<line x1="406.66" y1="268.00" x2="406.66" y2="293.00" stroke="#000" stroke-width="1.15"/>
<line x1="403.66" y1="268.00" x2="409.66" y2="268.00" stroke="#000" stroke-width="1.15"/>
<line x1="403.66" y1="293.00" x2="409.66" y2="293.00" stroke="#000" stroke-width="1.15"/>
<line x1="434.57" y1="283.00" x2="434.57" y2="299.50" stroke="#000" stroke-width="1.15"/>
<line x1="431.57" y1="283.00" x2="437.57" y2="283.00" stroke="#000" stroke-width="1.15"/>
<line x1="431.57" y1="299.50" x2="437.57" y2="299.50" stroke="#000" stroke-width="1.15"/>
<line x1="462.49" y1="306.00" x2="462.49" y2="316.50" stroke="#000" stroke-width="1.15"/>
<line x1="459.49" y1="306.00" x2="465.49" y2="306.00" stroke="#000" stroke-width="1.15"/>
<line x1="459.49" y1="316.50" x2="465.49" y2="316.50" stroke="#000" stroke-width="1.15"/>
<rect x="320.22" y="340.30" width="5.40" height="5.40" fill="#fff" stroke="#000" stroke-width="1.15"/>
<rect x="348.13" y="341.30" width="5.40" height="5.40" fill="#fff" stroke="#000" stroke-width="1.15"/>
<rect x="376.05" y="323.55" width="5.40" height="5.40" fill="#fff" stroke="#000" stroke-width="1.15"/>
<rect x="403.96" y="277.80" width="5.40" height="5.40" fill="#fff" stroke="#000" stroke-width="1.15"/>
<rect x="431.88" y="288.55" width="5.40" height="5.40" fill="#fff" stroke="#000" stroke-width="1.15"/>
<rect x="459.79" y="308.55" width="5.40" height="5.40" fill="#fff" stroke="#000" stroke-width="1.15"/>
<polyline points="322.92,344.00 350.83,345.00 378.75,342.50 406.66,312.00 434.57,308.75 462.49,313.00" fill="none" stroke="#000" stroke-width="1.15" stroke-linejoin="round"/>
<line x1="406.66" y1="303.00" x2="406.66" y2="321.50" stroke="#000" stroke-width="1.15"/>
<line x1="403.66" y1="303.00" x2="409.66" y2="303.00" stroke="#000" stroke-width="1.15"/>
<line x1="403.66" y1="321.50" x2="409.66" y2="321.50" stroke="#000" stroke-width="1.15"/>
<line x1="434.57" y1="297.50" x2="434.57" y2="319.80" stroke="#000" stroke-width="1.15"/>
<line x1="431.57" y1="297.50" x2="437.57" y2="297.50" stroke="#000" stroke-width="1.15"/>
<line x1="431.57" y1="319.80" x2="437.57" y2="319.80" stroke="#000" stroke-width="1.15"/>
<line x1="462.49" y1="300.00" x2="462.49" y2="326.25" stroke="#000" stroke-width="1.15"/>
<line x1="459.49" y1="300.00" x2="465.49" y2="300.00" stroke="#000" stroke-width="1.15"/>
<line x1="459.49" y1="326.25" x2="465.49" y2="326.25" stroke="#000" stroke-width="1.15"/>
<polygon points="322.92,341.12 325.31,345.44 320.52,345.44" fill="#000"/>
<polygon points="350.83,342.12 353.23,346.44 348.43,346.44" fill="#000"/>
<polygon points="378.75,339.62 381.14,343.94 376.35,343.94" fill="#000"/>
<polygon points="406.66,309.12 409.06,313.44 404.26,313.44" fill="#000"/>
<polygon points="434.57,305.87 436.97,310.19 432.18,310.19" fill="#000"/>
<polygon points="462.49,310.12 464.89,314.44 460.09,314.44" fill="#000"/>
<polyline points="322.92,341.00 350.83,343.50 378.75,325.00 406.66,287.50 434.57,291.00 462.49,321.25" fill="none" stroke="#000" stroke-width="1.15" stroke-linejoin="round"/>
<line x1="406.66" y1="276.00" x2="406.66" y2="297.50" stroke="#000" stroke-width="1.15"/>
<line x1="403.66" y1="276.00" x2="409.66" y2="276.00" stroke="#000" stroke-width="1.15"/>
<line x1="403.66" y1="297.50" x2="409.66" y2="297.50" stroke="#000" stroke-width="1.15"/>
<line x1="434.57" y1="286.00" x2="434.57" y2="296.60" stroke="#000" stroke-width="1.15"/>
<line x1="431.57" y1="286.00" x2="437.57" y2="286.00" stroke="#000" stroke-width="1.15"/>
<line x1="431.57" y1="296.60" x2="437.57" y2="296.60" stroke="#000" stroke-width="1.15"/>
<line x1="462.49" y1="316.00" x2="462.49" y2="326.00" stroke="#000" stroke-width="1.15"/>
<line x1="459.49" y1="316.00" x2="465.49" y2="316.00" stroke="#000" stroke-width="1.15"/>
<line x1="459.49" y1="326.00" x2="465.49" y2="326.00" stroke="#000" stroke-width="1.15"/>
<polygon points="322.92,344.24 325.62,339.38 320.22,339.38" fill="#000"/>
<polygon points="350.83,346.74 353.53,341.88 348.13,341.88" fill="#000"/>
<polygon points="378.75,328.24 381.44,323.38 376.05,323.38" fill="#000"/>
<polygon points="406.66,290.74 409.36,285.88 403.96,285.88" fill="#000"/>
<polygon points="434.57,294.24 437.27,289.38 431.88,289.38" fill="#000"/>
<polygon points="462.49,324.49 465.19,319.63 459.79,319.63" fill="#000"/>
<line x1="313.70" y1="219.50" x2="326.30" y2="219.50" stroke="#000" stroke-width="1.3"/>
<circle cx="320.00" cy="219.50" r="2.38" fill="#fff" stroke="#000" stroke-width="1.2"/>
<text transform="translate(343.50,219.50) scale(0.965,1)" x="0" y="3.04" font-size="8.5" text-anchor="end" font-family="Liberation Sans, sans-serif" font-weight="bold" stroke="#000" stroke-width="0.25" text-rendering="geometricPrecision">0.1</text>
<line x1="313.70" y1="232.00" x2="326.30" y2="232.00" stroke="#000" stroke-width="1.3"/>
<rect x="317.70" y="229.71" width="4.59" height="4.59" fill="#fff" stroke="#000" stroke-width="1.2"/>
<text transform="translate(340.30,232.00) scale(0.965,1)" x="0" y="3.04" font-size="8.5" text-anchor="end" font-family="Liberation Sans, sans-serif" font-weight="bold" stroke="#000" stroke-width="0.25" text-rendering="geometricPrecision">1</text>
<line x1="313.70" y1="250.00" x2="326.30" y2="250.00" stroke="#000" stroke-width="1.3"/>
<polygon points="320.00,246.94 322.55,251.53 317.45,251.53" fill="#000"/>
<text transform="translate(343.50,250.00) scale(0.965,1)" x="0" y="3.04" font-size="8.5" text-anchor="end" font-family="Liberation Sans, sans-serif" font-weight="bold" stroke="#000" stroke-width="0.25" text-rendering="geometricPrecision">0.1</text>
<line x1="313.70" y1="261.75" x2="326.30" y2="261.75" stroke="#000" stroke-width="1.3"/>
<polygon points="320.00,264.81 322.55,260.22 317.45,260.22" fill="#000"/>
<text transform="translate(340.30,261.75) scale(0.965,1)" x="0" y="3.04" font-size="8.5" text-anchor="end" font-family="Liberation Sans, sans-serif" font-weight="bold" stroke="#000" stroke-width="0.25" text-rendering="geometricPrecision">1</text>
<line x1="348.25" y1="214.50" x2="348.25" y2="236.25" stroke="#000" stroke-width="2.0"/>
<line x1="348.25" y1="245.75" x2="348.25" y2="268.00" stroke="#000" stroke-width="2.0"/>
<text transform="translate(352.00,225.75) scale(0.965,1)" x="0" y="3.40" font-size="9.5" text-anchor="start" font-family="Liberation Sans, sans-serif" font-weight="bold" stroke="#000" stroke-width="0.25" text-rendering="geometricPrecision">R5 (NL-AD8)</text>
<text transform="translate(353.80,256.75) scale(0.965,1)" x="0" y="3.40" font-size="9.5" text-anchor="start" font-family="Liberation Sans, sans-serif" font-weight="bold" stroke="#000" stroke-width="0.25" text-rendering="geometricPrecision">X4 (NL4-3)</text>
<line x1="70.62" y1="451.25" x2="70.62" y2="460.50" stroke="#000" stroke-width="1.2"/>
<line x1="67.83" y1="451.25" x2="73.42" y2="451.25" stroke="#000" stroke-width="1.2"/>
<rect x="65.60" y="461.10" width="10.05" height="59.65" fill="#fff" stroke="#000" stroke-width="1.2"/>
<line x1="112.38" y1="430.00" x2="112.38" y2="436.75" stroke="#000" stroke-width="1.2"/>
<line x1="109.58" y1="430.00" x2="115.17" y2="430.00" stroke="#000" stroke-width="1.2"/>
<rect x="107.35" y="437.35" width="10.05" height="83.40" fill="#fff" stroke="#000" stroke-width="1.2"/>
<rect x="148.85" y="517.60" width="10.55" height="3.15" fill="#fff" stroke="#000" stroke-width="1.2"/>
<rect x="191.10" y="517.35" width="10.30" height="3.40" fill="#fff" stroke="#000" stroke-width="1.2"/>
<line x1="86.00" y1="442.00" x2="86.00" y2="453.25" stroke="#000" stroke-width="1.2"/>
<line x1="83.20" y1="442.00" x2="88.80" y2="442.00" stroke="#000" stroke-width="1.2"/>
<rect x="80.00" y="453.25" width="12.00" height="67.50" fill="#000"/>
<line x1="128.12" y1="434.50" x2="128.12" y2="440.75" stroke="#000" stroke-width="1.2"/>
<line x1="125.33" y1="434.50" x2="130.93" y2="434.50" stroke="#000" stroke-width="1.2"/>
<rect x="122.00" y="440.75" width="12.25" height="80.00" fill="#000"/>
<line x1="170.00" y1="474.25" x2="170.00" y2="483.25" stroke="#000" stroke-width="1.2"/>
<line x1="167.20" y1="474.25" x2="172.80" y2="474.25" stroke="#000" stroke-width="1.2"/>
<rect x="164.25" y="483.25" width="11.50" height="37.50" fill="#000"/>
<line x1="211.88" y1="420.75" x2="211.88" y2="425.75" stroke="#000" stroke-width="1.2"/>
<line x1="209.07" y1="420.75" x2="214.68" y2="420.75" stroke="#000" stroke-width="1.2"/>
<rect x="205.75" y="425.75" width="12.25" height="95.00" fill="#000"/>
<line x1="57.30" y1="408.65" x2="57.30" y2="521.50" stroke="#000" stroke-width="1.8"/>
<line x1="56.55" y1="520.75" x2="225.10" y2="520.75" stroke="#000" stroke-width="1.8"/>
<line x1="52.10" y1="409.25" x2="57.30" y2="409.25" stroke="#000" stroke-width="1.7"/>
<text transform="translate(52.10,409.25) scale(0.965,1)" x="0" y="3.04" font-size="8.5" text-anchor="end" font-family="Liberation Sans, sans-serif" font-weight="bold" stroke="#000" stroke-width="0.25" text-rendering="geometricPrecision">25,000</text>
<line x1="52.10" y1="431.55" x2="57.30" y2="431.55" stroke="#000" stroke-width="1.7"/>
<text transform="translate(52.10,431.55) scale(0.965,1)" x="0" y="3.04" font-size="8.5" text-anchor="end" font-family="Liberation Sans, sans-serif" font-weight="bold" stroke="#000" stroke-width="0.25" text-rendering="geometricPrecision">20,000</text>
<line x1="52.10" y1="453.85" x2="57.30" y2="453.85" stroke="#000" stroke-width="1.7"/>
<text transform="translate(52.10,453.85) scale(0.965,1)" x="0" y="3.04" font-size="8.5" text-anchor="end" font-family="Liberation Sans, sans-serif" font-weight="bold" stroke="#000" stroke-width="0.25" text-rendering="geometricPrecision">15,000</text>
<line x1="52.10" y1="476.15" x2="57.30" y2="476.15" stroke="#000" stroke-width="1.7"/>
<text transform="translate(52.10,476.15) scale(0.965,1)" x="0" y="3.04" font-size="8.5" text-anchor="end" font-family="Liberation Sans, sans-serif" font-weight="bold" stroke="#000" stroke-width="0.25" text-rendering="geometricPrecision">10,000</text>
<line x1="52.10" y1="498.45" x2="57.30" y2="498.45" stroke="#000" stroke-width="1.7"/>
<text transform="translate(52.10,498.45) scale(0.965,1)" x="0" y="3.04" font-size="8.5" text-anchor="end" font-family="Liberation Sans, sans-serif" font-weight="bold" stroke="#000" stroke-width="0.25" text-rendering="geometricPrecision">5,000</text>
<line x1="52.10" y1="520.75" x2="57.30" y2="520.75" stroke="#000" stroke-width="1.7"/>
<text transform="translate(52.10,520.75) scale(0.965,1)" x="0" y="3.04" font-size="8.5" text-anchor="end" font-family="Liberation Sans, sans-serif" font-weight="bold" stroke="#000" stroke-width="0.25" text-rendering="geometricPrecision">0</text>
<line x1="78.25" y1="520.75" x2="78.25" y2="524.75" stroke="#000" stroke-width="1.7"/>
<text transform="translate(78.25,529.65) scale(0.965,1)" x="0" y="3.04" font-size="8.5" text-anchor="middle" font-family="Liberation Sans, sans-serif" font-weight="bold" stroke="#000" stroke-width="0.25" text-rendering="geometricPrecision">0.1</text>
<line x1="120.00" y1="520.75" x2="120.00" y2="524.75" stroke="#000" stroke-width="1.7"/>
<text transform="translate(120.00,529.65) scale(0.965,1)" x="0" y="3.04" font-size="8.5" text-anchor="middle" font-family="Liberation Sans, sans-serif" font-weight="bold" stroke="#000" stroke-width="0.25" text-rendering="geometricPrecision">1</text>
<line x1="162.00" y1="520.75" x2="162.00" y2="524.75" stroke="#000" stroke-width="1.7"/>
<text transform="translate(162.00,529.65) scale(0.965,1)" x="0" y="3.04" font-size="8.5" text-anchor="middle" font-family="Liberation Sans, sans-serif" font-weight="bold" stroke="#000" stroke-width="0.25" text-rendering="geometricPrecision">0.1</text>
<line x1="204.25" y1="520.75" x2="204.25" y2="524.75" stroke="#000" stroke-width="1.7"/>
<text transform="translate(204.25,529.65) scale(0.965,1)" x="0" y="3.04" font-size="8.5" text-anchor="middle" font-family="Liberation Sans, sans-serif" font-weight="bold" stroke="#000" stroke-width="0.25" text-rendering="geometricPrecision">1</text>
<line x1="72.50" y1="536.25" x2="122.00" y2="536.25" stroke="#000" stroke-width="1.3"/>
<line x1="156.75" y1="536.25" x2="206.25" y2="536.25" stroke="#000" stroke-width="1.3"/>
<text transform="translate(100.00,544.35) scale(0.965,1)" x="0" y="3.40" font-size="9.5" text-anchor="middle" font-family="Liberation Sans, sans-serif" font-weight="bold" stroke="#000" stroke-width="0.25" text-rendering="geometricPrecision">R5 (BaL)</text>
<text transform="translate(185.00,544.35) scale(0.965,1)" x="0" y="3.40" font-size="9.5" text-anchor="middle" textLength="49.64" lengthAdjust="spacingAndGlyphs" font-family="Liberation Sans, sans-serif" font-weight="bold" stroke="#000" stroke-width="0.25" text-rendering="geometricPrecision">X4(LAI-IIIB)</text>
<text transform="translate(11.50,464.00) rotate(-90) scale(0.965,1)" x="0" y="3.33" font-size="9.3" text-anchor="middle" font-family="Liberation Sans, sans-serif" font-weight="bold" stroke="#000" stroke-width="0.25" text-rendering="geometricPrecision">RT Activity (cpm/<tspan font-weight="normal" stroke-width="0">µ</tspan>l)</text>
<line x1="308.88" y1="440.75" x2="308.88" y2="445.00" stroke="#000" stroke-width="1.2"/>
<line x1="306.07" y1="440.75" x2="311.68" y2="440.75" stroke="#000" stroke-width="1.2"/>
<rect x="303.85" y="445.60" width="10.05" height="75.15" fill="#fff" stroke="#000" stroke-width="1.2"/>
<line x1="350.62" y1="443.25" x2="350.62" y2="446.25" stroke="#000" stroke-width="1.2"/>
<line x1="347.82" y1="443.25" x2="353.43" y2="443.25" stroke="#000" stroke-width="1.2"/>
<rect x="345.60" y="446.85" width="10.05" height="73.90" fill="#fff" stroke="#000" stroke-width="1.2"/>
<rect x="386.60" y="519.90" width="10.30" height="0.85" fill="#fff" stroke="#000" stroke-width="1.2"/>
<rect x="428.60" y="519.90" width="10.30" height="0.85" fill="#fff" stroke="#000" stroke-width="1.2"/>
<line x1="324.00" y1="459.50" x2="324.00" y2="462.50" stroke="#000" stroke-width="1.2"/>
<line x1="321.20" y1="459.50" x2="326.80" y2="459.50" stroke="#000" stroke-width="1.2"/>
<rect x="318.00" y="462.50" width="12.00" height="58.25" fill="#000"/>
<line x1="366.00" y1="450.50" x2="366.00" y2="453.00" stroke="#000" stroke-width="1.2"/>
<line x1="363.20" y1="450.50" x2="368.80" y2="450.50" stroke="#000" stroke-width="1.2"/>
<rect x="360.00" y="453.00" width="12.00" height="67.75" fill="#000"/>
<line x1="407.75" y1="493.75" x2="407.75" y2="497.00" stroke="#000" stroke-width="1.2"/>
<line x1="404.95" y1="493.75" x2="410.55" y2="493.75" stroke="#000" stroke-width="1.2"/>
<rect x="401.75" y="497.00" width="12.00" height="23.75" fill="#000"/>
<line x1="449.75" y1="468.25" x2="449.75" y2="474.50" stroke="#000" stroke-width="1.2"/>
<line x1="446.95" y1="468.25" x2="452.55" y2="468.25" stroke="#000" stroke-width="1.2"/>
<rect x="443.75" y="474.50" width="12.00" height="46.25" fill="#000"/>
<line x1="295.50" y1="408.15" x2="295.50" y2="521.50" stroke="#000" stroke-width="1.8"/>
<line x1="294.75" y1="520.75" x2="463.10" y2="520.75" stroke="#000" stroke-width="1.8"/>
<line x1="290.30" y1="408.75" x2="295.50" y2="408.75" stroke="#000" stroke-width="1.7"/>
<text transform="translate(290.30,408.75) scale(0.965,1)" x="0" y="3.04" font-size="8.5" text-anchor="end" font-family="Liberation Sans, sans-serif" font-weight="bold" stroke="#000" stroke-width="0.25" text-rendering="geometricPrecision">25,000</text>
<line x1="290.30" y1="431.15" x2="295.50" y2="431.15" stroke="#000" stroke-width="1.7"/>
<text transform="translate(290.30,431.15) scale(0.965,1)" x="0" y="3.04" font-size="8.5" text-anchor="end" font-family="Liberation Sans, sans-serif" font-weight="bold" stroke="#000" stroke-width="0.25" text-rendering="geometricPrecision">20,000</text>
<line x1="290.30" y1="453.55" x2="295.50" y2="453.55" stroke="#000" stroke-width="1.7"/>
<text transform="translate(290.30,453.55) scale(0.965,1)" x="0" y="3.04" font-size="8.5" text-anchor="end" font-family="Liberation Sans, sans-serif" font-weight="bold" stroke="#000" stroke-width="0.25" text-rendering="geometricPrecision">15,000</text>
<line x1="290.30" y1="475.95" x2="295.50" y2="475.95" stroke="#000" stroke-width="1.7"/>
<text transform="translate(290.30,475.95) scale(0.965,1)" x="0" y="3.04" font-size="8.5" text-anchor="end" font-family="Liberation Sans, sans-serif" font-weight="bold" stroke="#000" stroke-width="0.25" text-rendering="geometricPrecision">10,000</text>
<line x1="290.30" y1="498.35" x2="295.50" y2="498.35" stroke="#000" stroke-width="1.7"/>
<text transform="translate(290.30,498.35) scale(0.965,1)" x="0" y="3.04" font-size="8.5" text-anchor="end" font-family="Liberation Sans, sans-serif" font-weight="bold" stroke="#000" stroke-width="0.25" text-rendering="geometricPrecision">5,000</text>
<line x1="290.30" y1="520.75" x2="295.50" y2="520.75" stroke="#000" stroke-width="1.7"/>
<text transform="translate(290.30,520.75) scale(0.965,1)" x="0" y="3.04" font-size="8.5" text-anchor="end" font-family="Liberation Sans, sans-serif" font-weight="bold" stroke="#000" stroke-width="0.25" text-rendering="geometricPrecision">0</text>
<line x1="316.25" y1="520.75" x2="316.25" y2="524.75" stroke="#000" stroke-width="1.7"/>
<text transform="translate(316.25,529.65) scale(0.965,1)" x="0" y="3.04" font-size="8.5" text-anchor="middle" font-family="Liberation Sans, sans-serif" font-weight="bold" stroke="#000" stroke-width="0.25" text-rendering="geometricPrecision">0.1</text>
<line x1="357.50" y1="520.75" x2="357.50" y2="524.75" stroke="#000" stroke-width="1.7"/>
<text transform="translate(357.50,529.65) scale(0.965,1)" x="0" y="3.04" font-size="8.5" text-anchor="middle" font-family="Liberation Sans, sans-serif" font-weight="bold" stroke="#000" stroke-width="0.25" text-rendering="geometricPrecision">1</text>
<line x1="400.00" y1="520.75" x2="400.00" y2="524.75" stroke="#000" stroke-width="1.7"/>
<text transform="translate(400.00,529.65) scale(0.965,1)" x="0" y="3.04" font-size="8.5" text-anchor="middle" font-family="Liberation Sans, sans-serif" font-weight="bold" stroke="#000" stroke-width="0.25" text-rendering="geometricPrecision">0.1</text>
<line x1="441.75" y1="520.75" x2="441.75" y2="524.75" stroke="#000" stroke-width="1.7"/>
<text transform="translate(441.75,529.65) scale(0.965,1)" x="0" y="3.04" font-size="8.5" text-anchor="middle" font-family="Liberation Sans, sans-serif" font-weight="bold" stroke="#000" stroke-width="0.25" text-rendering="geometricPrecision">1</text>
<line x1="310.50" y1="536.25" x2="360.00" y2="536.25" stroke="#000" stroke-width="1.3"/>
<line x1="394.00" y1="536.25" x2="443.75" y2="536.25" stroke="#000" stroke-width="1.3"/>
<text transform="translate(340.00,544.35) scale(0.965,1)" x="0" y="3.40" font-size="9.5" text-anchor="middle" font-family="Liberation Sans, sans-serif" font-weight="bold" stroke="#000" stroke-width="0.25" text-rendering="geometricPrecision">R5 (NL-AD8)</text>
<text transform="translate(423.00,544.35) scale(0.965,1)" x="0" y="3.40" font-size="9.5" text-anchor="middle" font-family="Liberation Sans, sans-serif" font-weight="bold" stroke="#000" stroke-width="0.25" text-rendering="geometricPrecision">X4(NL4-3)</text>
<text transform="translate(254.50,464.00) rotate(-90) scale(0.965,1)" x="0" y="3.33" font-size="9.3" text-anchor="middle" font-family="Liberation Sans, sans-serif" font-weight="bold" stroke="#000" stroke-width="0.25" text-rendering="geometricPrecision">RT Activity (cpm/<tspan font-weight="normal" stroke-width="0">µ</tspan>l)</text>
<rect x="423.6" y="400.6" width="12.8" height="7" fill="#fff" stroke="#000" stroke-width="1.2"/>
<rect x="423" y="413.25" width="14" height="8.5" fill="#000"/>
<text transform="translate(443.00,404.25) scale(0.965,1)" x="0" y="3.26" font-size="9.1" text-anchor="start" font-family="Liberation Sans, sans-serif" font-weight="bold" stroke="#000" stroke-width="0.25" text-rendering="geometricPrecision">Children</text>
<text transform="translate(443.00,417.00) scale(0.965,1)" x="0" y="3.26" font-size="9.1" text-anchor="start" font-family="Liberation Sans, sans-serif" font-weight="bold" stroke="#000" stroke-width="0.25" text-rendering="geometricPrecision">Adults</text>
<line x1="57.30" y1="593.90" x2="57.30" y2="706.45" stroke="#000" stroke-width="1.8"/>
<line x1="56.55" y1="705.70" x2="225.20" y2="705.70" stroke="#000" stroke-width="1.8"/>
<line x1="52.10" y1="594.50" x2="57.30" y2="594.50" stroke="#000" stroke-width="1.7"/>
<text transform="translate(52.10,594.50) scale(0.965,1)" x="0" y="3.04" font-size="8.5" text-anchor="end" font-family="Liberation Sans, sans-serif" font-weight="bold" stroke="#000" stroke-width="0.25" text-rendering="geometricPrecision">4,000</text>
<line x1="52.10" y1="622.30" x2="57.30" y2="622.30" stroke="#000" stroke-width="1.7"/>
<text transform="translate(52.10,622.30) scale(0.965,1)" x="0" y="3.04" font-size="8.5" text-anchor="end" font-family="Liberation Sans, sans-serif" font-weight="bold" stroke="#000" stroke-width="0.25" text-rendering="geometricPrecision">3,000</text>
<line x1="52.10" y1="650.10" x2="57.30" y2="650.10" stroke="#000" stroke-width="1.7"/>
<text transform="translate(52.10,650.10) scale(0.965,1)" x="0" y="3.04" font-size="8.5" text-anchor="end" font-family="Liberation Sans, sans-serif" font-weight="bold" stroke="#000" stroke-width="0.25" text-rendering="geometricPrecision">2,000</text>
<line x1="52.10" y1="677.90" x2="57.30" y2="677.90" stroke="#000" stroke-width="1.7"/>
<text transform="translate(52.10,677.90) scale(0.965,1)" x="0" y="3.04" font-size="8.5" text-anchor="end" font-family="Liberation Sans, sans-serif" font-weight="bold" stroke="#000" stroke-width="0.25" text-rendering="geometricPrecision">1,000</text>
<line x1="52.10" y1="705.70" x2="57.30" y2="705.70" stroke="#000" stroke-width="1.7"/>
<text transform="translate(52.10,705.70) scale(0.965,1)" x="0" y="3.04" font-size="8.5" text-anchor="end" font-family="Liberation Sans, sans-serif" font-weight="bold" stroke="#000" stroke-width="0.25" text-rendering="geometricPrecision">0</text>
<line x1="57.30" y1="705.70" x2="57.30" y2="709.90" stroke="#000" stroke-width="1.7"/>
<text transform="translate(57.30,714.90) scale(0.965,1)" x="0" y="3.04" font-size="8.5" text-anchor="middle" font-family="Liberation Sans, sans-serif" font-weight="bold" stroke="#000" stroke-width="0.25" text-rendering="geometricPrecision">0</text>
<line x1="85.16" y1="705.70" x2="85.16" y2="709.90" stroke="#000" stroke-width="1.7"/>
<text transform="translate(85.16,714.90) scale(0.965,1)" x="0" y="3.04" font-size="8.5" text-anchor="middle" font-family="Liberation Sans, sans-serif" font-weight="bold" stroke="#000" stroke-width="0.25" text-rendering="geometricPrecision">4</text>
<line x1="113.03" y1="705.70" x2="113.03" y2="709.90" stroke="#000" stroke-width="1.7"/>
<text transform="translate(113.03,714.90) scale(0.965,1)" x="0" y="3.04" font-size="8.5" text-anchor="middle" font-family="Liberation Sans, sans-serif" font-weight="bold" stroke="#000" stroke-width="0.25" text-rendering="geometricPrecision">8</text>
<line x1="140.89" y1="705.70" x2="140.89" y2="709.90" stroke="#000" stroke-width="1.7"/>
<text transform="translate(140.89,714.90) scale(0.965,1)" x="0" y="3.04" font-size="8.5" text-anchor="middle" font-family="Liberation Sans, sans-serif" font-weight="bold" stroke="#000" stroke-width="0.25" text-rendering="geometricPrecision">12</text>
<line x1="168.76" y1="705.70" x2="168.76" y2="709.90" stroke="#000" stroke-width="1.7"/>
<text transform="translate(168.76,714.90) scale(0.965,1)" x="0" y="3.04" font-size="8.5" text-anchor="middle" font-family="Liberation Sans, sans-serif" font-weight="bold" stroke="#000" stroke-width="0.25" text-rendering="geometricPrecision">16</text>
<line x1="196.62" y1="705.70" x2="196.62" y2="709.90" stroke="#000" stroke-width="1.7"/>
<text transform="translate(196.62,714.90) scale(0.965,1)" x="0" y="3.04" font-size="8.5" text-anchor="middle" font-family="Liberation Sans, sans-serif" font-weight="bold" stroke="#000" stroke-width="0.25" text-rendering="geometricPrecision">20</text>
<line x1="224.48" y1="705.70" x2="224.48" y2="709.90" stroke="#000" stroke-width="1.7"/>
<text transform="translate(224.48,714.90) scale(0.965,1)" x="0" y="3.04" font-size="8.5" text-anchor="middle" font-family="Liberation Sans, sans-serif" font-weight="bold" stroke="#000" stroke-width="0.25" text-rendering="geometricPrecision">24</text>
<text transform="translate(16.25,648.90) rotate(-90) scale(0.965,1)" x="0" y="3.33" font-size="9.3" text-anchor="middle" font-family="Liberation Sans, sans-serif" font-weight="bold" stroke="#000" stroke-width="0.25" text-rendering="geometricPrecision">RT Activity (cpm/ul)</text>
<text transform="translate(141.25,730.50) scale(0.965,1)" x="0" y="3.33" font-size="9.3" text-anchor="middle" font-family="Liberation Sans, sans-serif" font-weight="bold" stroke="#000" stroke-width="0.25" text-rendering="geometricPrecision">Days P.I.</text>
<polyline points="78.20,702.00 99.10,632.00 119.99,638.00 140.89,678.75 161.79,688.75 182.69,698.75 203.59,700.75 224.48,702.00" fill="none" stroke="#000" stroke-width="1.6" stroke-linejoin="round"/>
<line x1="99.10" y1="622.00" x2="99.10" y2="642.00" stroke="#000" stroke-width="1.6"/>
<line x1="96.10" y1="622.00" x2="102.10" y2="622.00" stroke="#000" stroke-width="1.6"/>
<line x1="96.10" y1="642.00" x2="102.10" y2="642.00" stroke="#000" stroke-width="1.6"/>
<line x1="119.99" y1="630.00" x2="119.99" y2="644.00" stroke="#000" stroke-width="1.6"/>
<line x1="116.99" y1="630.00" x2="122.99" y2="630.00" stroke="#000" stroke-width="1.6"/>
<line x1="116.99" y1="644.00" x2="122.99" y2="644.00" stroke="#000" stroke-width="1.6"/>
<line x1="140.89" y1="675.00" x2="140.89" y2="682.00" stroke="#000" stroke-width="1.6"/>
<line x1="137.89" y1="675.00" x2="143.89" y2="675.00" stroke="#000" stroke-width="1.6"/>
<line x1="137.89" y1="682.00" x2="143.89" y2="682.00" stroke="#000" stroke-width="1.6"/>
<polygon points="78.20,697.61 81.86,704.20 74.54,704.20" fill="#000"/>
<polygon points="99.10,627.61 102.76,634.20 95.44,634.20" fill="#000"/>
<polygon points="119.99,633.61 123.65,640.20 116.33,640.20" fill="#000"/>
<polygon points="140.89,674.36 144.55,680.95 137.23,680.95" fill="#000"/>
<polygon points="161.79,684.36 165.45,690.95 158.13,690.95" fill="#000"/>
<polygon points="182.69,694.36 186.35,700.95 179.03,700.95" fill="#000"/>
<polygon points="203.59,696.36 207.25,702.95 199.93,702.95" fill="#000"/>
<polygon points="224.48,697.61 228.14,704.20 220.82,704.20" fill="#000"/>
<polyline points="78.20,701.25 99.10,632.50 119.99,635.50 140.89,625.75 161.79,631.75 182.69,663.00 203.59,666.25 224.48,661.75" fill="none" stroke="#000" stroke-width="1.6" stroke-linejoin="round"/>
<line x1="99.10" y1="618.00" x2="99.10" y2="645.00" stroke="#000" stroke-width="1.6"/>
<line x1="96.10" y1="618.00" x2="102.10" y2="618.00" stroke="#000" stroke-width="1.6"/>
<line x1="96.10" y1="645.00" x2="102.10" y2="645.00" stroke="#000" stroke-width="1.6"/>
<line x1="119.99" y1="626.75" x2="119.99" y2="645.00" stroke="#000" stroke-width="1.6"/>
<line x1="116.99" y1="626.75" x2="122.99" y2="626.75" stroke="#000" stroke-width="1.6"/>
<line x1="116.99" y1="645.00" x2="122.99" y2="645.00" stroke="#000" stroke-width="1.6"/>
<line x1="140.89" y1="615.00" x2="140.89" y2="637.00" stroke="#000" stroke-width="1.6"/>
<line x1="137.89" y1="615.00" x2="143.89" y2="615.00" stroke="#000" stroke-width="1.6"/>
<line x1="137.89" y1="637.00" x2="143.89" y2="637.00" stroke="#000" stroke-width="1.6"/>
<line x1="161.79" y1="621.25" x2="161.79" y2="641.75" stroke="#000" stroke-width="1.6"/>
<line x1="158.79" y1="621.25" x2="164.79" y2="621.25" stroke="#000" stroke-width="1.6"/>
<line x1="158.79" y1="641.75" x2="164.79" y2="641.75" stroke="#000" stroke-width="1.6"/>
<line x1="182.69" y1="658.25" x2="182.69" y2="669.25" stroke="#000" stroke-width="1.6"/>
<line x1="179.69" y1="658.25" x2="185.69" y2="658.25" stroke="#000" stroke-width="1.6"/>
<line x1="179.69" y1="669.25" x2="185.69" y2="669.25" stroke="#000" stroke-width="1.6"/>
<line x1="203.59" y1="658.25" x2="203.59" y2="674.50" stroke="#000" stroke-width="1.6"/>
<line x1="200.59" y1="658.25" x2="206.59" y2="658.25" stroke="#000" stroke-width="1.6"/>
<line x1="200.59" y1="674.50" x2="206.59" y2="674.50" stroke="#000" stroke-width="1.6"/>
<line x1="224.48" y1="650.00" x2="224.48" y2="674.25" stroke="#000" stroke-width="1.6"/>
<line x1="221.48" y1="650.00" x2="227.48" y2="650.00" stroke="#000" stroke-width="1.6"/>
<line x1="221.48" y1="674.25" x2="227.48" y2="674.25" stroke="#000" stroke-width="1.6"/>
<rect x="75.17" y="698.23" width="6.05" height="6.05" fill="#fff" stroke="#000" stroke-width="1.6"/>
<rect x="96.07" y="629.48" width="6.05" height="6.05" fill="#fff" stroke="#000" stroke-width="1.6"/>
<rect x="116.97" y="632.48" width="6.05" height="6.05" fill="#fff" stroke="#000" stroke-width="1.6"/>
<rect x="137.87" y="622.73" width="6.05" height="6.05" fill="#fff" stroke="#000" stroke-width="1.6"/>
<rect x="158.77" y="628.73" width="6.05" height="6.05" fill="#fff" stroke="#000" stroke-width="1.6"/>
<rect x="179.66" y="659.98" width="6.05" height="6.05" fill="#fff" stroke="#000" stroke-width="1.6"/>
<rect x="200.56" y="663.23" width="6.05" height="6.05" fill="#fff" stroke="#000" stroke-width="1.6"/>
<rect x="221.46" y="658.73" width="6.05" height="6.05" fill="#fff" stroke="#000" stroke-width="1.6"/>
<line x1="187.20" y1="602.50" x2="201.00" y2="602.50" stroke="#000" stroke-width="1.6"/>
<rect x="191.18" y="599.58" width="5.83" height="5.83" fill="#fff" stroke="#000" stroke-width="1.6"/>
<line x1="187.20" y1="615.50" x2="201.00" y2="615.50" stroke="#000" stroke-width="1.6"/>
<polygon points="194.10,611.25 197.64,617.62 190.56,617.62" fill="#000"/>
<text transform="translate(206.60,602.80) scale(0.965,1)" x="0" y="3.40" font-size="9.5" text-anchor="start" font-family="Liberation Sans, sans-serif" font-weight="bold" stroke="#000" stroke-width="0.25" text-rendering="geometricPrecision">R5 (BaL)</text>
<text transform="translate(206.60,615.50) scale(0.965,1)" x="0" y="3.40" font-size="9.5" text-anchor="start" textLength="50.67" lengthAdjust="spacingAndGlyphs" font-family="Liberation Sans, sans-serif" font-weight="bold" stroke="#000" stroke-width="0.25" text-rendering="geometricPrecision">X4 (LAI-IIIB)</text>
<line x1="57.30" y1="784.80" x2="57.30" y2="897.15" stroke="#000" stroke-width="1.8"/>
<line x1="56.55" y1="896.40" x2="225.20" y2="896.40" stroke="#000" stroke-width="1.8"/>
<line x1="52.10" y1="785.40" x2="57.30" y2="785.40" stroke="#000" stroke-width="1.7"/>
<text transform="translate(52.10,785.40) scale(0.965,1)" x="0" y="3.04" font-size="8.5" text-anchor="end" font-family="Liberation Sans, sans-serif" font-weight="bold" stroke="#000" stroke-width="0.25" text-rendering="geometricPrecision">6,000</text>
<line x1="52.10" y1="822.40" x2="57.30" y2="822.40" stroke="#000" stroke-width="1.7"/>
<text transform="translate(52.10,822.40) scale(0.965,1)" x="0" y="3.04" font-size="8.5" text-anchor="end" font-family="Liberation Sans, sans-serif" font-weight="bold" stroke="#000" stroke-width="0.25" text-rendering="geometricPrecision">4,000</text>
<line x1="52.10" y1="859.40" x2="57.30" y2="859.40" stroke="#000" stroke-width="1.7"/>
<text transform="translate(52.10,859.40) scale(0.965,1)" x="0" y="3.04" font-size="8.5" text-anchor="end" font-family="Liberation Sans, sans-serif" font-weight="bold" stroke="#000" stroke-width="0.25" text-rendering="geometricPrecision">2,000</text>
<line x1="52.10" y1="896.40" x2="57.30" y2="896.40" stroke="#000" stroke-width="1.7"/>
<text transform="translate(52.10,896.40) scale(0.965,1)" x="0" y="3.04" font-size="8.5" text-anchor="end" font-family="Liberation Sans, sans-serif" font-weight="bold" stroke="#000" stroke-width="0.25" text-rendering="geometricPrecision">0</text>
<line x1="57.30" y1="896.40" x2="57.30" y2="900.60" stroke="#000" stroke-width="1.7"/>
<text transform="translate(57.30,905.60) scale(0.965,1)" x="0" y="3.04" font-size="8.5" text-anchor="middle" font-family="Liberation Sans, sans-serif" font-weight="bold" stroke="#000" stroke-width="0.25" text-rendering="geometricPrecision">0</text>
<line x1="78.15" y1="896.40" x2="78.15" y2="900.60" stroke="#000" stroke-width="1.7"/>
<text transform="translate(78.15,905.60) scale(0.965,1)" x="0" y="3.04" font-size="8.5" text-anchor="middle" font-family="Liberation Sans, sans-serif" font-weight="bold" stroke="#000" stroke-width="0.25" text-rendering="geometricPrecision">5</text>
<line x1="99.00" y1="896.40" x2="99.00" y2="900.60" stroke="#000" stroke-width="1.7"/>
<text transform="translate(99.00,905.60) scale(0.965,1)" x="0" y="3.04" font-size="8.5" text-anchor="middle" font-family="Liberation Sans, sans-serif" font-weight="bold" stroke="#000" stroke-width="0.25" text-rendering="geometricPrecision">10</text>
<line x1="119.85" y1="896.40" x2="119.85" y2="900.60" stroke="#000" stroke-width="1.7"/>
<text transform="translate(119.85,905.60) scale(0.965,1)" x="0" y="3.04" font-size="8.5" text-anchor="middle" font-family="Liberation Sans, sans-serif" font-weight="bold" stroke="#000" stroke-width="0.25" text-rendering="geometricPrecision">15</text>
<line x1="140.70" y1="896.40" x2="140.70" y2="900.60" stroke="#000" stroke-width="1.7"/>
<text transform="translate(140.70,905.60) scale(0.965,1)" x="0" y="3.04" font-size="8.5" text-anchor="middle" font-family="Liberation Sans, sans-serif" font-weight="bold" stroke="#000" stroke-width="0.25" text-rendering="geometricPrecision">20</text>
<line x1="161.55" y1="896.40" x2="161.55" y2="900.60" stroke="#000" stroke-width="1.7"/>
<text transform="translate(161.55,905.60) scale(0.965,1)" x="0" y="3.04" font-size="8.5" text-anchor="middle" font-family="Liberation Sans, sans-serif" font-weight="bold" stroke="#000" stroke-width="0.25" text-rendering="geometricPrecision">25</text>
<line x1="182.40" y1="896.40" x2="182.40" y2="900.60" stroke="#000" stroke-width="1.7"/>
<text transform="translate(182.40,905.60) scale(0.965,1)" x="0" y="3.04" font-size="8.5" text-anchor="middle" font-family="Liberation Sans, sans-serif" font-weight="bold" stroke="#000" stroke-width="0.25" text-rendering="geometricPrecision">30</text>
<line x1="203.25" y1="896.40" x2="203.25" y2="900.60" stroke="#000" stroke-width="1.7"/>
<text transform="translate(203.25,905.60) scale(0.965,1)" x="0" y="3.04" font-size="8.5" text-anchor="middle" font-family="Liberation Sans, sans-serif" font-weight="bold" stroke="#000" stroke-width="0.25" text-rendering="geometricPrecision">35</text>
<line x1="224.10" y1="896.40" x2="224.10" y2="900.60" stroke="#000" stroke-width="1.7"/>
<text transform="translate(224.10,905.60) scale(0.965,1)" x="0" y="3.04" font-size="8.5" text-anchor="middle" font-family="Liberation Sans, sans-serif" font-weight="bold" stroke="#000" stroke-width="0.25" text-rendering="geometricPrecision">40</text>
<text transform="translate(16.25,839.90) rotate(-90) scale(0.965,1)" x="0" y="3.33" font-size="9.3" text-anchor="middle" font-family="Liberation Sans, sans-serif" font-weight="bold" stroke="#000" stroke-width="0.25" text-rendering="geometricPrecision">RT Activity (cpm/ul)</text>
<text transform="translate(141.25,920.00) scale(0.965,1)" x="0" y="3.33" font-size="9.3" text-anchor="middle" font-family="Liberation Sans, sans-serif" font-weight="bold" stroke="#000" stroke-width="0.25" text-rendering="geometricPrecision">Days P.I.</text>
<text transform="translate(96.25,767.50) scale(0.965,1)" x="0" y="3.88" font-size="10.85" text-anchor="start" font-family="Liberation Sans, sans-serif" font-weight="bold" stroke="#000" stroke-width="0.25" text-rendering="geometricPrecision">PBMC (PHA+IL2)</text>
<polyline points="69.81,893.00 86.49,843.75 103.17,835.00 115.68,857.50 132.36,868.75 144.87,877.00 161.55,884.50 174.06,888.75 186.57,891.00 199.08,892.50 219.93,893.50" fill="none" stroke="#000" stroke-width="1.6" stroke-linejoin="round"/>
<line x1="86.49" y1="818.75" x2="86.49" y2="868.00" stroke="#000" stroke-width="1.6"/>
<line x1="83.49" y1="818.75" x2="89.49" y2="818.75" stroke="#000" stroke-width="1.6"/>
<line x1="83.49" y1="868.00" x2="89.49" y2="868.00" stroke="#000" stroke-width="1.6"/>
<line x1="103.17" y1="820.00" x2="103.17" y2="850.00" stroke="#000" stroke-width="1.6"/>
<line x1="100.17" y1="820.00" x2="106.17" y2="820.00" stroke="#000" stroke-width="1.6"/>
<line x1="100.17" y1="850.00" x2="106.17" y2="850.00" stroke="#000" stroke-width="1.6"/>
<line x1="115.68" y1="848.75" x2="115.68" y2="864.50" stroke="#000" stroke-width="1.6"/>
<line x1="112.68" y1="848.75" x2="118.68" y2="848.75" stroke="#000" stroke-width="1.6"/>
<line x1="112.68" y1="864.50" x2="118.68" y2="864.50" stroke="#000" stroke-width="1.6"/>
<line x1="132.36" y1="864.50" x2="132.36" y2="873.00" stroke="#000" stroke-width="1.6"/>
<line x1="129.36" y1="864.50" x2="135.36" y2="864.50" stroke="#000" stroke-width="1.6"/>
<line x1="129.36" y1="873.00" x2="135.36" y2="873.00" stroke="#000" stroke-width="1.6"/>
<line x1="144.87" y1="873.50" x2="144.87" y2="881.00" stroke="#000" stroke-width="1.6"/>
<line x1="141.87" y1="873.50" x2="147.87" y2="873.50" stroke="#000" stroke-width="1.6"/>
<line x1="141.87" y1="881.00" x2="147.87" y2="881.00" stroke="#000" stroke-width="1.6"/>
<polygon points="69.81,888.61 73.47,895.20 66.15,895.20" fill="#000"/>
<polygon points="86.49,839.36 90.15,845.95 82.83,845.95" fill="#000"/>
<polygon points="103.17,830.61 106.83,837.20 99.51,837.20" fill="#000"/>
<polygon points="115.68,853.11 119.34,859.70 112.02,859.70" fill="#000"/>
<polygon points="132.36,864.36 136.02,870.95 128.70,870.95" fill="#000"/>
<polygon points="144.87,872.61 148.53,879.20 141.21,879.20" fill="#000"/>
<polygon points="161.55,880.11 165.21,886.70 157.89,886.70" fill="#000"/>
<polygon points="174.06,884.36 177.72,890.95 170.40,890.95" fill="#000"/>
<polygon points="186.57,886.61 190.23,893.20 182.91,893.20" fill="#000"/>
<polygon points="199.08,888.11 202.74,894.70 195.42,894.70" fill="#000"/>
<polygon points="219.93,889.11 223.59,895.70 216.27,895.70" fill="#000"/>
<polyline points="69.81,892.50 86.49,870.00 103.17,810.00 115.68,828.75 132.36,856.25 144.87,873.00 161.55,884.50 174.06,888.75 186.57,890.75 199.08,892.50 219.93,894.25" fill="none" stroke="#000" stroke-width="1.6" stroke-linejoin="round"/>
<line x1="86.49" y1="864.00" x2="86.49" y2="876.25" stroke="#000" stroke-width="1.6"/>
<line x1="83.49" y1="864.00" x2="89.49" y2="864.00" stroke="#000" stroke-width="1.6"/>
<line x1="83.49" y1="876.25" x2="89.49" y2="876.25" stroke="#000" stroke-width="1.6"/>
<line x1="103.17" y1="797.50" x2="103.17" y2="822.50" stroke="#000" stroke-width="1.6"/>
<line x1="100.17" y1="797.50" x2="106.17" y2="797.50" stroke="#000" stroke-width="1.6"/>
<line x1="100.17" y1="822.50" x2="106.17" y2="822.50" stroke="#000" stroke-width="1.6"/>
<rect x="66.79" y="889.48" width="6.05" height="6.05" fill="#fff" stroke="#000" stroke-width="1.6"/>
<rect x="83.47" y="866.98" width="6.05" height="6.05" fill="#fff" stroke="#000" stroke-width="1.6"/>
<rect x="100.15" y="806.98" width="6.05" height="6.05" fill="#fff" stroke="#000" stroke-width="1.6"/>
<rect x="112.66" y="825.73" width="6.05" height="6.05" fill="#fff" stroke="#000" stroke-width="1.6"/>
<rect x="129.34" y="853.23" width="6.05" height="6.05" fill="#fff" stroke="#000" stroke-width="1.6"/>
<rect x="141.85" y="869.98" width="6.05" height="6.05" fill="#fff" stroke="#000" stroke-width="1.6"/>
<rect x="158.53" y="881.48" width="6.05" height="6.05" fill="#fff" stroke="#000" stroke-width="1.6"/>
<rect x="171.04" y="885.73" width="6.05" height="6.05" fill="#fff" stroke="#000" stroke-width="1.6"/>
<rect x="183.55" y="887.73" width="6.05" height="6.05" fill="#fff" stroke="#000" stroke-width="1.6"/>
<rect x="196.06" y="889.48" width="6.05" height="6.05" fill="#fff" stroke="#000" stroke-width="1.6"/>
<rect x="216.91" y="891.23" width="6.05" height="6.05" fill="#fff" stroke="#000" stroke-width="1.6"/>
<line x1="162.80" y1="803.80" x2="176.60" y2="803.80" stroke="#000" stroke-width="1.6"/>
<rect x="166.78" y="800.88" width="5.83" height="5.83" fill="#fff" stroke="#000" stroke-width="1.6"/>
<line x1="162.80" y1="816.70" x2="176.60" y2="816.70" stroke="#000" stroke-width="1.6"/>
<polygon points="169.70,812.45 173.24,818.82 166.16,818.82" fill="#000"/>
<text transform="translate(182.50,804.10) scale(0.965,1)" x="0" y="3.40" font-size="9.5" text-anchor="start" font-family="Liberation Sans, sans-serif" font-weight="bold" stroke="#000" stroke-width="0.25" text-rendering="geometricPrecision">R5 (BaL)</text>
<text transform="translate(182.50,816.70) scale(0.965,1)" x="0" y="3.40" font-size="9.5" text-anchor="start" textLength="50.67" lengthAdjust="spacingAndGlyphs" font-family="Liberation Sans, sans-serif" font-weight="bold" stroke="#000" stroke-width="0.25" text-rendering="geometricPrecision">X4 (LAI-IIIB)</text>
<line x1="57.30" y1="961.20" x2="57.30" y2="1073.45" stroke="#000" stroke-width="1.8"/>
<line x1="56.55" y1="1072.70" x2="225.20" y2="1072.70" stroke="#000" stroke-width="1.8"/>
<line x1="52.10" y1="961.80" x2="57.30" y2="961.80" stroke="#000" stroke-width="1.7"/>
<text transform="translate(52.10,961.80) scale(0.965,1)" x="0" y="3.04" font-size="8.5" text-anchor="end" font-family="Liberation Sans, sans-serif" font-weight="bold" stroke="#000" stroke-width="0.25" text-rendering="geometricPrecision">20,000</text>
<line x1="52.10" y1="989.50" x2="57.30" y2="989.50" stroke="#000" stroke-width="1.7"/>
<text transform="translate(52.10,989.50) scale(0.965,1)" x="0" y="3.04" font-size="8.5" text-anchor="end" font-family="Liberation Sans, sans-serif" font-weight="bold" stroke="#000" stroke-width="0.25" text-rendering="geometricPrecision">15,000</text>
<line x1="52.10" y1="1017.25" x2="57.30" y2="1017.25" stroke="#000" stroke-width="1.7"/>
<text transform="translate(52.10,1017.25) scale(0.965,1)" x="0" y="3.04" font-size="8.5" text-anchor="end" font-family="Liberation Sans, sans-serif" font-weight="bold" stroke="#000" stroke-width="0.25" text-rendering="geometricPrecision">10,000</text>
<line x1="52.10" y1="1045.00" x2="57.30" y2="1045.00" stroke="#000" stroke-width="1.7"/>
<text transform="translate(52.10,1045.00) scale(0.965,1)" x="0" y="3.04" font-size="8.5" text-anchor="end" font-family="Liberation Sans, sans-serif" font-weight="bold" stroke="#000" stroke-width="0.25" text-rendering="geometricPrecision">5,000</text>
<line x1="52.10" y1="1072.70" x2="57.30" y2="1072.70" stroke="#000" stroke-width="1.7"/>
<text transform="translate(52.10,1072.70) scale(0.965,1)" x="0" y="3.04" font-size="8.5" text-anchor="end" font-family="Liberation Sans, sans-serif" font-weight="bold" stroke="#000" stroke-width="0.25" text-rendering="geometricPrecision">0</text>
<line x1="57.30" y1="1072.70" x2="57.30" y2="1076.90" stroke="#000" stroke-width="1.7"/>
<text transform="translate(57.30,1081.90) scale(0.965,1)" x="0" y="3.04" font-size="8.5" text-anchor="middle" font-family="Liberation Sans, sans-serif" font-weight="bold" stroke="#000" stroke-width="0.25" text-rendering="geometricPrecision">0</text>
<line x1="78.15" y1="1072.70" x2="78.15" y2="1076.90" stroke="#000" stroke-width="1.7"/>
<text transform="translate(78.15,1081.90) scale(0.965,1)" x="0" y="3.04" font-size="8.5" text-anchor="middle" font-family="Liberation Sans, sans-serif" font-weight="bold" stroke="#000" stroke-width="0.25" text-rendering="geometricPrecision">5</text>
<line x1="99.00" y1="1072.70" x2="99.00" y2="1076.90" stroke="#000" stroke-width="1.7"/>
<text transform="translate(99.00,1081.90) scale(0.965,1)" x="0" y="3.04" font-size="8.5" text-anchor="middle" font-family="Liberation Sans, sans-serif" font-weight="bold" stroke="#000" stroke-width="0.25" text-rendering="geometricPrecision">10</text>
<line x1="119.85" y1="1072.70" x2="119.85" y2="1076.90" stroke="#000" stroke-width="1.7"/>
<text transform="translate(119.85,1081.90) scale(0.965,1)" x="0" y="3.04" font-size="8.5" text-anchor="middle" font-family="Liberation Sans, sans-serif" font-weight="bold" stroke="#000" stroke-width="0.25" text-rendering="geometricPrecision">15</text>
<line x1="140.70" y1="1072.70" x2="140.70" y2="1076.90" stroke="#000" stroke-width="1.7"/>
<text transform="translate(140.70,1081.90) scale(0.965,1)" x="0" y="3.04" font-size="8.5" text-anchor="middle" font-family="Liberation Sans, sans-serif" font-weight="bold" stroke="#000" stroke-width="0.25" text-rendering="geometricPrecision">20</text>
<line x1="161.55" y1="1072.70" x2="161.55" y2="1076.90" stroke="#000" stroke-width="1.7"/>
<text transform="translate(161.55,1081.90) scale(0.965,1)" x="0" y="3.04" font-size="8.5" text-anchor="middle" font-family="Liberation Sans, sans-serif" font-weight="bold" stroke="#000" stroke-width="0.25" text-rendering="geometricPrecision">25</text>
<line x1="182.40" y1="1072.70" x2="182.40" y2="1076.90" stroke="#000" stroke-width="1.7"/>
<text transform="translate(182.40,1081.90) scale(0.965,1)" x="0" y="3.04" font-size="8.5" text-anchor="middle" font-family="Liberation Sans, sans-serif" font-weight="bold" stroke="#000" stroke-width="0.25" text-rendering="geometricPrecision">30</text>
<line x1="203.25" y1="1072.70" x2="203.25" y2="1076.90" stroke="#000" stroke-width="1.7"/>
<text transform="translate(203.25,1081.90) scale(0.965,1)" x="0" y="3.04" font-size="8.5" text-anchor="middle" font-family="Liberation Sans, sans-serif" font-weight="bold" stroke="#000" stroke-width="0.25" text-rendering="geometricPrecision">35</text>
<line x1="224.10" y1="1072.70" x2="224.10" y2="1076.90" stroke="#000" stroke-width="1.7"/>
<text transform="translate(224.10,1081.90) scale(0.965,1)" x="0" y="3.04" font-size="8.5" text-anchor="middle" font-family="Liberation Sans, sans-serif" font-weight="bold" stroke="#000" stroke-width="0.25" text-rendering="geometricPrecision">40</text>
<text transform="translate(11.50,1017.00) rotate(-90) scale(0.965,1)" x="0" y="3.33" font-size="9.3" text-anchor="middle" font-family="Liberation Sans, sans-serif" font-weight="bold" stroke="#000" stroke-width="0.25" text-rendering="geometricPrecision">RT Activity (cpm/ul)</text>
<text transform="translate(136.00,1097.75) scale(0.965,1)" x="0" y="3.33" font-size="9.3" text-anchor="middle" font-family="Liberation Sans, sans-serif" font-weight="bold" stroke="#000" stroke-width="0.25" text-rendering="geometricPrecision">Days P.I.</text>
<text transform="translate(98.25,944.25) scale(0.965,1)" x="0" y="3.88" font-size="10.85" text-anchor="start" font-family="Liberation Sans, sans-serif" font-weight="bold" stroke="#000" stroke-width="0.25" text-rendering="geometricPrecision">CD4 (PHA+IL2)</text>
<polyline points="69.81,1068.50 86.49,987.50 103.17,991.75 115.68,1022.25 132.36,1034.75 144.87,1047.25 161.55,1052.00 174.06,1064.00 186.57,1059.00 199.08,1064.00 219.93,1068.00" fill="none" stroke="#000" stroke-width="1.35" stroke-linejoin="round"/>
<line x1="103.17" y1="987.00" x2="103.17" y2="991.75" stroke="#000" stroke-width="1.35"/>
<line x1="100.17" y1="987.00" x2="106.17" y2="987.00" stroke="#000" stroke-width="1.35"/>
<line x1="115.68" y1="1017.25" x2="115.68" y2="1022.25" stroke="#000" stroke-width="1.35"/>
<line x1="112.68" y1="1017.25" x2="118.68" y2="1017.25" stroke="#000" stroke-width="1.35"/>
<line x1="132.36" y1="1029.25" x2="132.36" y2="1034.75" stroke="#000" stroke-width="1.35"/>
<line x1="129.36" y1="1029.25" x2="135.36" y2="1029.25" stroke="#000" stroke-width="1.35"/>
<line x1="144.87" y1="1043.00" x2="144.87" y2="1051.00" stroke="#000" stroke-width="1.35"/>
<line x1="141.87" y1="1043.00" x2="147.87" y2="1043.00" stroke="#000" stroke-width="1.35"/>
<line x1="141.87" y1="1051.00" x2="147.87" y2="1051.00" stroke="#000" stroke-width="1.35"/>
<line x1="186.57" y1="1054.25" x2="186.57" y2="1059.00" stroke="#000" stroke-width="1.35"/>
<line x1="183.57" y1="1054.25" x2="189.57" y2="1054.25" stroke="#000" stroke-width="1.35"/>
<line x1="199.08" y1="1059.25" x2="199.08" y2="1064.00" stroke="#000" stroke-width="1.35"/>
<line x1="196.08" y1="1059.25" x2="202.08" y2="1059.25" stroke="#000" stroke-width="1.35"/>
<polygon points="69.81,1063.64 73.86,1070.93 65.76,1070.93" fill="#000"/>
<polygon points="86.49,982.64 90.54,989.93 82.44,989.93" fill="#000"/>
<polygon points="103.17,986.89 107.22,994.18 99.12,994.18" fill="#000"/>
<polygon points="115.68,1017.39 119.73,1024.68 111.63,1024.68" fill="#000"/>
<polygon points="132.36,1029.89 136.41,1037.18 128.31,1037.18" fill="#000"/>
<polygon points="144.87,1042.39 148.92,1049.68 140.82,1049.68" fill="#000"/>
<polygon points="161.55,1047.14 165.60,1054.43 157.50,1054.43" fill="#000"/>
<polygon points="174.06,1059.14 178.11,1066.43 170.01,1066.43" fill="#000"/>
<polygon points="186.57,1054.14 190.62,1061.43 182.52,1061.43" fill="#000"/>
<polygon points="199.08,1059.14 203.13,1066.43 195.03,1066.43" fill="#000"/>
<polygon points="219.93,1063.14 223.98,1070.43 215.88,1070.43" fill="#000"/>
<polyline points="69.81,1071.00 86.49,1054.00 103.17,1031.00 115.68,996.50 132.36,991.25 144.87,1034.75 161.55,1052.25 174.06,1066.50 186.57,1069.75 199.08,1071.00 219.93,1072.25" fill="none" stroke="#000" stroke-width="1.35" stroke-linejoin="round"/>
<line x1="132.36" y1="983.25" x2="132.36" y2="998.75" stroke="#000" stroke-width="1.35"/>
<line x1="129.36" y1="983.25" x2="135.36" y2="983.25" stroke="#000" stroke-width="1.35"/>
<line x1="129.36" y1="998.75" x2="135.36" y2="998.75" stroke="#000" stroke-width="1.35"/>
<line x1="144.87" y1="1028.50" x2="144.87" y2="1041.00" stroke="#000" stroke-width="1.35"/>
<line x1="141.87" y1="1028.50" x2="147.87" y2="1028.50" stroke="#000" stroke-width="1.35"/>
<line x1="141.87" y1="1041.00" x2="147.87" y2="1041.00" stroke="#000" stroke-width="1.35"/>
<line x1="161.55" y1="1046.00" x2="161.55" y2="1059.25" stroke="#000" stroke-width="1.35"/>
<line x1="158.55" y1="1046.00" x2="164.55" y2="1046.00" stroke="#000" stroke-width="1.35"/>
<line x1="158.55" y1="1059.25" x2="164.55" y2="1059.25" stroke="#000" stroke-width="1.35"/>
<rect x="66.79" y="1067.98" width="6.05" height="6.05" fill="#fff" stroke="#000" stroke-width="1.35"/>
<rect x="83.47" y="1050.98" width="6.05" height="6.05" fill="#fff" stroke="#000" stroke-width="1.35"/>
<rect x="100.15" y="1027.98" width="6.05" height="6.05" fill="#fff" stroke="#000" stroke-width="1.35"/>
<rect x="112.66" y="993.48" width="6.05" height="6.05" fill="#fff" stroke="#000" stroke-width="1.35"/>
<rect x="129.34" y="988.23" width="6.05" height="6.05" fill="#fff" stroke="#000" stroke-width="1.35"/>
<rect x="141.85" y="1031.73" width="6.05" height="6.05" fill="#fff" stroke="#000" stroke-width="1.35"/>
<rect x="158.53" y="1049.23" width="6.05" height="6.05" fill="#fff" stroke="#000" stroke-width="1.35"/>
<rect x="171.04" y="1063.48" width="6.05" height="6.05" fill="#fff" stroke="#000" stroke-width="1.35"/>
<rect x="183.55" y="1066.73" width="6.05" height="6.05" fill="#fff" stroke="#000" stroke-width="1.35"/>
<rect x="196.06" y="1067.98" width="6.05" height="6.05" fill="#fff" stroke="#000" stroke-width="1.35"/>
<rect x="216.91" y="1069.23" width="6.05" height="6.05" fill="#fff" stroke="#000" stroke-width="1.35"/>
<line x1="168.10" y1="979.50" x2="181.90" y2="979.50" stroke="#000" stroke-width="1.35"/>
<rect x="172.08" y="976.58" width="5.83" height="5.83" fill="#fff" stroke="#000" stroke-width="1.35"/>
<line x1="168.10" y1="992.80" x2="181.90" y2="992.80" stroke="#000" stroke-width="1.35"/>
<polygon points="175.00,988.12 178.90,995.14 171.10,995.14" fill="#000"/>
<text transform="translate(187.90,979.80) scale(0.965,1)" x="0" y="3.40" font-size="9.5" text-anchor="start" font-family="Liberation Sans, sans-serif" font-weight="bold" stroke="#000" stroke-width="0.25" text-rendering="geometricPrecision">R5 (BaL)</text>
<text transform="translate(187.90,992.80) scale(0.965,1)" x="0" y="3.40" font-size="9.5" text-anchor="start" textLength="50.67" lengthAdjust="spacingAndGlyphs" font-family="Liberation Sans, sans-serif" font-weight="bold" stroke="#000" stroke-width="0.25" text-rendering="geometricPrecision">X4 (LAI-IIIB)</text>
<line x1="295.50" y1="961.50" x2="295.50" y2="1073.45" stroke="#000" stroke-width="1.8"/>
<line x1="294.75" y1="1072.70" x2="462.90" y2="1072.70" stroke="#000" stroke-width="1.8"/>
<line x1="290.30" y1="962.10" x2="295.50" y2="962.10" stroke="#000" stroke-width="1.7"/>
<text transform="translate(290.30,962.10) scale(0.965,1)" x="0" y="3.04" font-size="8.5" text-anchor="end" font-family="Liberation Sans, sans-serif" font-weight="bold" stroke="#000" stroke-width="0.25" text-rendering="geometricPrecision">5,000</text>
<line x1="290.30" y1="984.20" x2="295.50" y2="984.20" stroke="#000" stroke-width="1.7"/>
<text transform="translate(290.30,984.20) scale(0.965,1)" x="0" y="3.04" font-size="8.5" text-anchor="end" font-family="Liberation Sans, sans-serif" font-weight="bold" stroke="#000" stroke-width="0.25" text-rendering="geometricPrecision">4,000</text>
<line x1="290.30" y1="1006.30" x2="295.50" y2="1006.30" stroke="#000" stroke-width="1.7"/>
<text transform="translate(290.30,1006.30) scale(0.965,1)" x="0" y="3.04" font-size="8.5" text-anchor="end" font-family="Liberation Sans, sans-serif" font-weight="bold" stroke="#000" stroke-width="0.25" text-rendering="geometricPrecision">3,000</text>
<line x1="290.30" y1="1028.50" x2="295.50" y2="1028.50" stroke="#000" stroke-width="1.7"/>
<text transform="translate(290.30,1028.50) scale(0.965,1)" x="0" y="3.04" font-size="8.5" text-anchor="end" font-family="Liberation Sans, sans-serif" font-weight="bold" stroke="#000" stroke-width="0.25" text-rendering="geometricPrecision">2,000</text>
<line x1="290.30" y1="1050.60" x2="295.50" y2="1050.60" stroke="#000" stroke-width="1.7"/>
<text transform="translate(290.30,1050.60) scale(0.965,1)" x="0" y="3.04" font-size="8.5" text-anchor="end" font-family="Liberation Sans, sans-serif" font-weight="bold" stroke="#000" stroke-width="0.25" text-rendering="geometricPrecision">1,000</text>
<line x1="290.30" y1="1072.70" x2="295.50" y2="1072.70" stroke="#000" stroke-width="1.7"/>
<text transform="translate(290.30,1072.70) scale(0.965,1)" x="0" y="3.04" font-size="8.5" text-anchor="end" font-family="Liberation Sans, sans-serif" font-weight="bold" stroke="#000" stroke-width="0.25" text-rendering="geometricPrecision">0</text>
<line x1="295.50" y1="1072.70" x2="295.50" y2="1076.90" stroke="#000" stroke-width="1.7"/>
<text transform="translate(295.50,1081.90) scale(0.965,1)" x="0" y="3.04" font-size="8.5" text-anchor="middle" font-family="Liberation Sans, sans-serif" font-weight="bold" stroke="#000" stroke-width="0.25" text-rendering="geometricPrecision">0</text>
<line x1="319.25" y1="1072.70" x2="319.25" y2="1076.90" stroke="#000" stroke-width="1.7"/>
<text transform="translate(319.25,1081.90) scale(0.965,1)" x="0" y="3.04" font-size="8.5" text-anchor="middle" font-family="Liberation Sans, sans-serif" font-weight="bold" stroke="#000" stroke-width="0.25" text-rendering="geometricPrecision">3</text>
<line x1="343.00" y1="1072.70" x2="343.00" y2="1076.90" stroke="#000" stroke-width="1.7"/>
<text transform="translate(343.00,1081.90) scale(0.965,1)" x="0" y="3.04" font-size="8.5" text-anchor="middle" font-family="Liberation Sans, sans-serif" font-weight="bold" stroke="#000" stroke-width="0.25" text-rendering="geometricPrecision">6</text>
<line x1="366.75" y1="1072.70" x2="366.75" y2="1076.90" stroke="#000" stroke-width="1.7"/>
<text transform="translate(366.75,1081.90) scale(0.965,1)" x="0" y="3.04" font-size="8.5" text-anchor="middle" font-family="Liberation Sans, sans-serif" font-weight="bold" stroke="#000" stroke-width="0.25" text-rendering="geometricPrecision">9</text>
<line x1="390.50" y1="1072.70" x2="390.50" y2="1076.90" stroke="#000" stroke-width="1.7"/>
<text transform="translate(390.50,1081.90) scale(0.965,1)" x="0" y="3.04" font-size="8.5" text-anchor="middle" font-family="Liberation Sans, sans-serif" font-weight="bold" stroke="#000" stroke-width="0.25" text-rendering="geometricPrecision">12</text>
<line x1="414.25" y1="1072.70" x2="414.25" y2="1076.90" stroke="#000" stroke-width="1.7"/>
<text transform="translate(414.25,1081.90) scale(0.965,1)" x="0" y="3.04" font-size="8.5" text-anchor="middle" font-family="Liberation Sans, sans-serif" font-weight="bold" stroke="#000" stroke-width="0.25" text-rendering="geometricPrecision">15</text>
<line x1="438.01" y1="1072.70" x2="438.01" y2="1076.90" stroke="#000" stroke-width="1.7"/>
<text transform="translate(438.01,1081.90) scale(0.965,1)" x="0" y="3.04" font-size="8.5" text-anchor="middle" font-family="Liberation Sans, sans-serif" font-weight="bold" stroke="#000" stroke-width="0.25" text-rendering="geometricPrecision">18</text>
<line x1="461.76" y1="1072.70" x2="461.76" y2="1076.90" stroke="#000" stroke-width="1.7"/>
<text transform="translate(461.76,1081.90) scale(0.965,1)" x="0" y="3.04" font-size="8.5" text-anchor="middle" font-family="Liberation Sans, sans-serif" font-weight="bold" stroke="#000" stroke-width="0.25" text-rendering="geometricPrecision">21</text>
<text transform="translate(254.50,1017.00) rotate(-90) scale(0.965,1)" x="0" y="3.33" font-size="9.3" text-anchor="middle" font-family="Liberation Sans, sans-serif" font-weight="bold" stroke="#000" stroke-width="0.25" text-rendering="geometricPrecision">RT Activity (cpm/ul)</text>
<text transform="translate(378.90,1097.75) scale(0.965,1)" x="0" y="3.33" font-size="9.3" text-anchor="middle" font-family="Liberation Sans, sans-serif" font-weight="bold" stroke="#000" stroke-width="0.25" text-rendering="geometricPrecision">Days P.I.</text>
<text transform="translate(333.00,944.25) scale(0.965,1)" x="0" y="3.88" font-size="10.85" text-anchor="start" textLength="92.85" lengthAdjust="spacingAndGlyphs" font-family="Liberation Sans, sans-serif" font-weight="bold" stroke="#000" stroke-width="0.25" text-rendering="geometricPrecision">CD4 (post-feeder)</text>
<polyline points="319.25,1072.00 350.92,1072.00 374.67,1072.00 398.42,1068.50 430.09,1069.75 461.76,1064.00" fill="none" stroke="#000" stroke-width="1.6" stroke-linejoin="round"/>
<polygon points="319.25,1067.61 322.91,1074.20 315.59,1074.20" fill="#000"/>
<polygon points="350.92,1067.61 354.58,1074.20 347.26,1074.20" fill="#000"/>
<polygon points="374.67,1067.61 378.33,1074.20 371.01,1074.20" fill="#000"/>
<polygon points="398.42,1064.11 402.08,1070.70 394.76,1070.70" fill="#000"/>
<polygon points="430.09,1065.36 433.75,1071.95 426.43,1071.95" fill="#000"/>
<polygon points="461.76,1059.61 465.42,1066.20 458.10,1066.20" fill="#000"/>
<polyline points="319.25,1071.50 350.92,1068.50 374.67,1031.75 398.42,1000.00 430.09,1013.75 461.76,1032.75" fill="none" stroke="#000" stroke-width="1.6" stroke-linejoin="round"/>
<line x1="398.42" y1="987.50" x2="398.42" y2="1011.75" stroke="#000" stroke-width="1.6"/>
<line x1="395.42" y1="987.50" x2="401.42" y2="987.50" stroke="#000" stroke-width="1.6"/>
<line x1="395.42" y1="1011.75" x2="401.42" y2="1011.75" stroke="#000" stroke-width="1.6"/>
<rect x="316.23" y="1068.48" width="6.05" height="6.05" fill="#fff" stroke="#000" stroke-width="1.6"/>
<rect x="347.89" y="1065.48" width="6.05" height="6.05" fill="#fff" stroke="#000" stroke-width="1.6"/>
<rect x="371.65" y="1028.73" width="6.05" height="6.05" fill="#fff" stroke="#000" stroke-width="1.6"/>
<rect x="395.40" y="996.98" width="6.05" height="6.05" fill="#fff" stroke="#000" stroke-width="1.6"/>
<rect x="427.06" y="1010.73" width="6.05" height="6.05" fill="#fff" stroke="#000" stroke-width="1.6"/>
<rect x="458.73" y="1029.73" width="6.05" height="6.05" fill="#fff" stroke="#000" stroke-width="1.6"/>
<line x1="445.40" y1="977.50" x2="459.20" y2="977.50" stroke="#000" stroke-width="1.6"/>
<rect x="449.38" y="974.58" width="5.83" height="5.83" fill="#fff" stroke="#000" stroke-width="1.6"/>
<line x1="445.40" y1="990.50" x2="459.20" y2="990.50" stroke="#000" stroke-width="1.6"/>
<polygon points="452.30,986.25 455.84,992.62 448.76,992.62" fill="#000"/>
<text transform="translate(465.20,977.80) scale(0.965,1)" x="0" y="3.40" font-size="9.5" text-anchor="start" font-family="Liberation Sans, sans-serif" font-weight="bold" stroke="#000" stroke-width="0.25" text-rendering="geometricPrecision">R5 (BaL)</text>
<text transform="translate(465.20,990.50) scale(0.965,1)" x="0" y="3.40" font-size="9.5" text-anchor="start" textLength="50.67" lengthAdjust="spacingAndGlyphs" font-family="Liberation Sans, sans-serif" font-weight="bold" stroke="#000" stroke-width="0.25" text-rendering="geometricPrecision">X4 (LAI-IIIB)</text>
</svg>
</body></html>
